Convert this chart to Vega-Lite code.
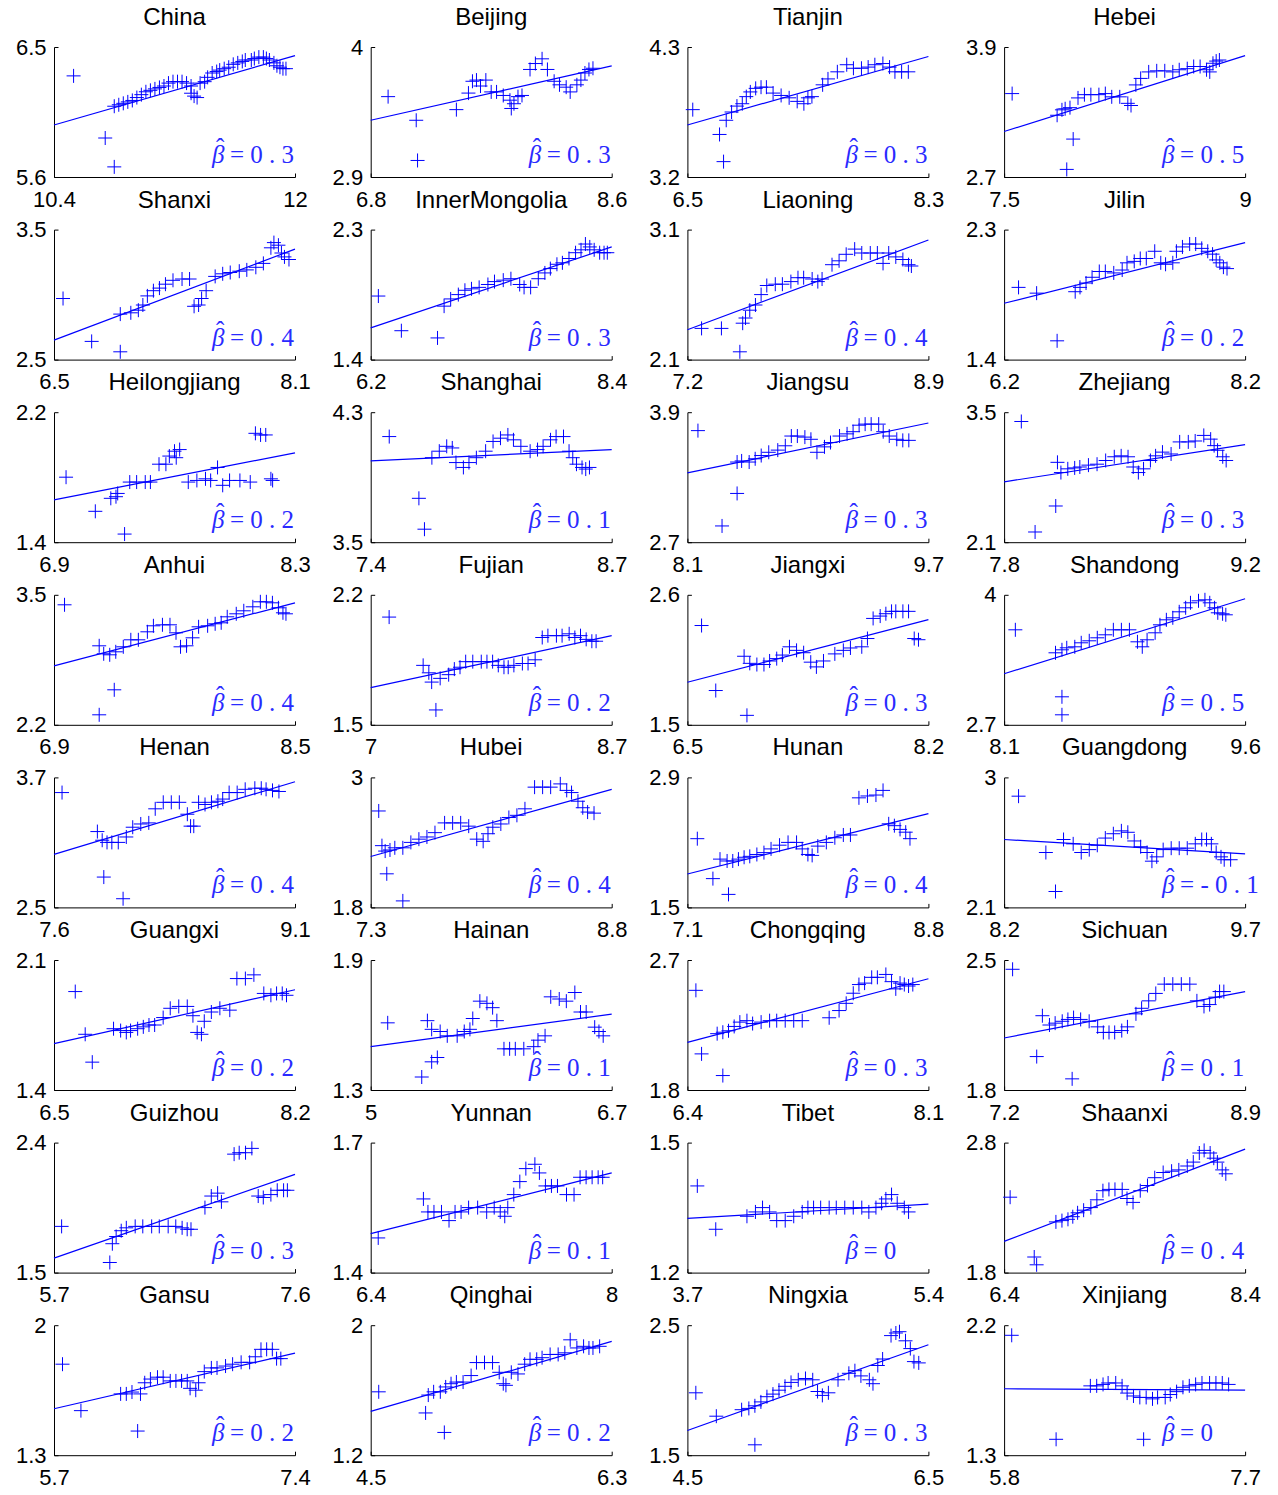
{
"$schema":"https://vega.github.io/schema/vega-lite/v6.json",
"background":"white",
"padding":{"left":15,"top":6,"right":0,"bottom":0},
"bounds":"flush",
"columns":4,
"spacing":{"row":52.6,"column":75.7},
"datasets":{
"pts":[
{"p":"China","x":10.53,"y":6.3},{"p":"China","x":10.74,"y":5.87},{"p":"China","x":10.8,"y":5.67},{"p":"China","x":10.8,"y":6.09},{"p":"China","x":10.83,"y":6.1},{"p":"China","x":10.86,"y":6.11},{"p":"China","x":10.89,"y":6.12},{"p":"China","x":10.92,"y":6.13},{"p":"China","x":10.95,"y":6.15},{"p":"China","x":10.98,"y":6.17},{"p":"China","x":11.01,"y":6.19},{"p":"China","x":11.04,"y":6.2},{"p":"China","x":11.07,"y":6.21},{"p":"China","x":11.1,"y":6.22},{"p":"China","x":11.13,"y":6.23},{"p":"China","x":11.16,"y":6.25},{"p":"China","x":11.19,"y":6.26},{"p":"China","x":11.22,"y":6.26},{"p":"China","x":11.25,"y":6.26},{"p":"China","x":11.28,"y":6.25},{"p":"China","x":11.31,"y":6.23},{"p":"China","x":11.31,"y":6.18},{"p":"China","x":11.33,"y":6.16},{"p":"China","x":11.35,"y":6.15},{"p":"China","x":11.37,"y":6.25},{"p":"China","x":11.4,"y":6.26},{"p":"China","x":11.42,"y":6.29},{"p":"China","x":11.45,"y":6.32},{"p":"China","x":11.48,"y":6.33},{"p":"China","x":11.5,"y":6.34},{"p":"China","x":11.53,"y":6.35},{"p":"China","x":11.56,"y":6.36},{"p":"China","x":11.59,"y":6.38},{"p":"China","x":11.62,"y":6.39},{"p":"China","x":11.65,"y":6.4},{"p":"China","x":11.67,"y":6.41},{"p":"China","x":11.71,"y":6.41},{"p":"China","x":11.73,"y":6.42},{"p":"China","x":11.76,"y":6.43},{"p":"China","x":11.79,"y":6.43},{"p":"China","x":11.81,"y":6.42},{"p":"China","x":11.83,"y":6.41},{"p":"China","x":11.86,"y":6.39},{"p":"China","x":11.88,"y":6.37},{"p":"China","x":11.9,"y":6.36},{"p":"China","x":11.92,"y":6.35},{"p":"China","x":11.94,"y":6.35},
{"p":"Beijing","x":6.93,"y":3.58},{"p":"Beijing","x":7.14,"y":3.38},{"p":"Beijing","x":7.15,"y":3.04},{"p":"Beijing","x":7.44,"y":3.47},{"p":"Beijing","x":7.53,"y":3.61},{"p":"Beijing","x":7.56,"y":3.71},{"p":"Beijing","x":7.59,"y":3.72},{"p":"Beijing","x":7.62,"y":3.67},{"p":"Beijing","x":7.66,"y":3.72},{"p":"Beijing","x":7.7,"y":3.62},{"p":"Beijing","x":7.74,"y":3.62},{"p":"Beijing","x":7.79,"y":3.59},{"p":"Beijing","x":7.84,"y":3.55},{"p":"Beijing","x":7.87,"y":3.52},{"p":"Beijing","x":7.85,"y":3.48},{"p":"Beijing","x":7.9,"y":3.58},{"p":"Beijing","x":7.93,"y":3.59},{"p":"Beijing","x":7.99,"y":3.81},{"p":"Beijing","x":8.03,"y":3.86},{"p":"Beijing","x":8.08,"y":3.9},{"p":"Beijing","x":8.12,"y":3.81},{"p":"Beijing","x":8.17,"y":3.71},{"p":"Beijing","x":8.21,"y":3.68},{"p":"Beijing","x":8.26,"y":3.66},{"p":"Beijing","x":8.29,"y":3.62},{"p":"Beijing","x":8.34,"y":3.68},{"p":"Beijing","x":8.37,"y":3.72},{"p":"Beijing","x":8.4,"y":3.78},{"p":"Beijing","x":8.43,"y":3.81},{"p":"Beijing","x":8.46,"y":3.82},
{"p":"Tianjin","x":6.54,"y":3.77},{"p":"Tianjin","x":6.74,"y":3.56},{"p":"Tianjin","x":6.77,"y":3.33},{"p":"Tianjin","x":6.79,"y":3.68},{"p":"Tianjin","x":6.83,"y":3.75},{"p":"Tianjin","x":6.87,"y":3.8},{"p":"Tianjin","x":6.91,"y":3.82},{"p":"Tianjin","x":6.94,"y":3.88},{"p":"Tianjin","x":6.97,"y":3.92},{"p":"Tianjin","x":7.01,"y":3.95},{"p":"Tianjin","x":7.05,"y":3.96},{"p":"Tianjin","x":7.09,"y":3.96},{"p":"Tianjin","x":7.14,"y":3.91},{"p":"Tianjin","x":7.2,"y":3.89},{"p":"Tianjin","x":7.26,"y":3.87},{"p":"Tianjin","x":7.32,"y":3.84},{"p":"Tianjin","x":7.37,"y":3.82},{"p":"Tianjin","x":7.4,"y":3.87},{"p":"Tianjin","x":7.43,"y":3.88},{"p":"Tianjin","x":7.51,"y":3.98},{"p":"Tianjin","x":7.55,"y":4.03},{"p":"Tianjin","x":7.62,"y":4.09},{"p":"Tianjin","x":7.69,"y":4.15},{"p":"Tianjin","x":7.74,"y":4.12},{"p":"Tianjin","x":7.8,"y":4.12},{"p":"Tianjin","x":7.85,"y":4.13},{"p":"Tianjin","x":7.9,"y":4.15},{"p":"Tianjin","x":7.96,"y":4.16},{"p":"Tianjin","x":8.01,"y":4.13},{"p":"Tianjin","x":8.05,"y":4.09},{"p":"Tianjin","x":8.1,"y":4.09},{"p":"Tianjin","x":8.15,"y":4.09},
{"p":"Hebei","x":7.55,"y":3.47},{"p":"Hebei","x":7.83,"y":3.27},{"p":"Hebei","x":7.86,"y":3.32},{"p":"Hebei","x":7.88,"y":3.33},{"p":"Hebei","x":7.91,"y":3.34},{"p":"Hebei","x":7.93,"y":3.05},{"p":"Hebei","x":7.89,"y":2.77},{"p":"Hebei","x":7.96,"y":3.43},{"p":"Hebei","x":8.0,"y":3.46},{"p":"Hebei","x":8.04,"y":3.46},{"p":"Hebei","x":8.09,"y":3.46},{"p":"Hebei","x":8.13,"y":3.47},{"p":"Hebei","x":8.17,"y":3.44},{"p":"Hebei","x":8.22,"y":3.44},{"p":"Hebei","x":8.27,"y":3.38},{"p":"Hebei","x":8.29,"y":3.36},{"p":"Hebei","x":8.32,"y":3.55},{"p":"Hebei","x":8.35,"y":3.61},{"p":"Hebei","x":8.4,"y":3.67},{"p":"Hebei","x":8.45,"y":3.68},{"p":"Hebei","x":8.5,"y":3.68},{"p":"Hebei","x":8.55,"y":3.67},{"p":"Hebei","x":8.59,"y":3.69},{"p":"Hebei","x":8.64,"y":3.7},{"p":"Hebei","x":8.68,"y":3.72},{"p":"Hebei","x":8.72,"y":3.72},{"p":"Hebei","x":8.76,"y":3.69},{"p":"Hebei","x":8.78,"y":3.67},{"p":"Hebei","x":8.8,"y":3.75},{"p":"Hebei","x":8.82,"y":3.77},{"p":"Hebei","x":8.84,"y":3.78},
{"p":"Shanxi","x":6.56,"y":2.97},{"p":"Shanxi","x":6.75,"y":2.64},{"p":"Shanxi","x":6.94,"y":2.56},{"p":"Shanxi","x":6.94,"y":2.85},{"p":"Shanxi","x":7.01,"y":2.86},{"p":"Shanxi","x":7.06,"y":2.88},{"p":"Shanxi","x":7.09,"y":2.92},{"p":"Shanxi","x":7.12,"y":2.99},{"p":"Shanxi","x":7.16,"y":3.03},{"p":"Shanxi","x":7.2,"y":3.05},{"p":"Shanxi","x":7.24,"y":3.08},{"p":"Shanxi","x":7.29,"y":3.11},{"p":"Shanxi","x":7.35,"y":3.12},{"p":"Shanxi","x":7.4,"y":3.12},{"p":"Shanxi","x":7.43,"y":2.91},{"p":"Shanxi","x":7.46,"y":2.92},{"p":"Shanxi","x":7.48,"y":2.97},{"p":"Shanxi","x":7.51,"y":3.03},{"p":"Shanxi","x":7.57,"y":3.14},{"p":"Shanxi","x":7.62,"y":3.16},{"p":"Shanxi","x":7.67,"y":3.17},{"p":"Shanxi","x":7.73,"y":3.18},{"p":"Shanxi","x":7.78,"y":3.19},{"p":"Shanxi","x":7.84,"y":3.21},{"p":"Shanxi","x":7.89,"y":3.24},{"p":"Shanxi","x":7.94,"y":3.36},{"p":"Shanxi","x":7.96,"y":3.4},{"p":"Shanxi","x":7.99,"y":3.38},{"p":"Shanxi","x":8.01,"y":3.32},{"p":"Shanxi","x":8.03,"y":3.29},{"p":"Shanxi","x":8.06,"y":3.27},
{"p":"InnerMongolia","x":6.27,"y":1.84},{"p":"InnerMongolia","x":6.48,"y":1.6},{"p":"InnerMongolia","x":6.81,"y":1.55},{"p":"InnerMongolia","x":6.87,"y":1.77},{"p":"InnerMongolia","x":6.93,"y":1.82},{"p":"InnerMongolia","x":7.0,"y":1.85},{"p":"InnerMongolia","x":7.06,"y":1.88},{"p":"InnerMongolia","x":7.12,"y":1.89},{"p":"InnerMongolia","x":7.19,"y":1.9},{"p":"InnerMongolia","x":7.27,"y":1.92},{"p":"InnerMongolia","x":7.33,"y":1.94},{"p":"InnerMongolia","x":7.41,"y":1.95},{"p":"InnerMongolia","x":7.48,"y":1.96},{"p":"InnerMongolia","x":7.56,"y":1.92},{"p":"InnerMongolia","x":7.6,"y":1.9},{"p":"InnerMongolia","x":7.66,"y":1.9},{"p":"InnerMongolia","x":7.73,"y":1.96},{"p":"InnerMongolia","x":7.79,"y":2.0},{"p":"InnerMongolia","x":7.84,"y":2.03},{"p":"InnerMongolia","x":7.9,"y":2.06},{"p":"InnerMongolia","x":7.95,"y":2.07},{"p":"InnerMongolia","x":8.01,"y":2.1},{"p":"InnerMongolia","x":8.07,"y":2.14},{"p":"InnerMongolia","x":8.12,"y":2.16},{"p":"InnerMongolia","x":8.16,"y":2.2},{"p":"InnerMongolia","x":8.2,"y":2.18},{"p":"InnerMongolia","x":8.24,"y":2.16},{"p":"InnerMongolia","x":8.29,"y":2.14},{"p":"InnerMongolia","x":8.33,"y":2.14},{"p":"InnerMongolia","x":8.36,"y":2.14},
{"p":"Liaoning","x":7.3,"y":2.34},{"p":"Liaoning","x":7.44,"y":2.34},{"p":"Liaoning","x":7.57,"y":2.16},{"p":"Liaoning","x":7.59,"y":2.38},{"p":"Liaoning","x":7.61,"y":2.42},{"p":"Liaoning","x":7.64,"y":2.48},{"p":"Liaoning","x":7.68,"y":2.52},{"p":"Liaoning","x":7.72,"y":2.6},{"p":"Liaoning","x":7.76,"y":2.67},{"p":"Liaoning","x":7.82,"y":2.68},{"p":"Liaoning","x":7.87,"y":2.68},{"p":"Liaoning","x":7.93,"y":2.7},{"p":"Liaoning","x":7.98,"y":2.73},{"p":"Liaoning","x":8.02,"y":2.73},{"p":"Liaoning","x":8.08,"y":2.72},{"p":"Liaoning","x":8.12,"y":2.7},{"p":"Liaoning","x":8.15,"y":2.72},{"p":"Liaoning","x":8.22,"y":2.83},{"p":"Liaoning","x":8.27,"y":2.86},{"p":"Liaoning","x":8.32,"y":2.91},{"p":"Liaoning","x":8.38,"y":2.95},{"p":"Liaoning","x":8.43,"y":2.92},{"p":"Liaoning","x":8.49,"y":2.92},{"p":"Liaoning","x":8.54,"y":2.92},{"p":"Liaoning","x":8.58,"y":2.84},{"p":"Liaoning","x":8.62,"y":2.92},{"p":"Liaoning","x":8.67,"y":2.89},{"p":"Liaoning","x":8.72,"y":2.87},{"p":"Liaoning","x":8.76,"y":2.83},{"p":"Liaoning","x":8.78,"y":2.82},
{"p":"Jilin","x":6.32,"y":1.9},{"p":"Jilin","x":6.47,"y":1.86},{"p":"Jilin","x":6.64,"y":1.53},{"p":"Jilin","x":6.79,"y":1.87},{"p":"Jilin","x":6.83,"y":1.9},{"p":"Jilin","x":6.88,"y":1.93},{"p":"Jilin","x":6.93,"y":1.97},{"p":"Jilin","x":6.99,"y":2.01},{"p":"Jilin","x":7.04,"y":2.01},{"p":"Jilin","x":7.11,"y":2.0},{"p":"Jilin","x":7.18,"y":2.02},{"p":"Jilin","x":7.22,"y":2.07},{"p":"Jilin","x":7.28,"y":2.08},{"p":"Jilin","x":7.33,"y":2.1},{"p":"Jilin","x":7.38,"y":2.1},{"p":"Jilin","x":7.45,"y":2.15},{"p":"Jilin","x":7.5,"y":2.07},{"p":"Jilin","x":7.54,"y":2.06},{"p":"Jilin","x":7.6,"y":2.07},{"p":"Jilin","x":7.63,"y":2.15},{"p":"Jilin","x":7.68,"y":2.18},{"p":"Jilin","x":7.74,"y":2.2},{"p":"Jilin","x":7.79,"y":2.2},{"p":"Jilin","x":7.84,"y":2.17},{"p":"Jilin","x":7.89,"y":2.15},{"p":"Jilin","x":7.93,"y":2.13},{"p":"Jilin","x":7.96,"y":2.09},{"p":"Jilin","x":7.99,"y":2.07},{"p":"Jilin","x":8.02,"y":2.04},{"p":"Jilin","x":8.05,"y":2.03},
{"p":"Heilongjiang","x":6.97,"y":1.8},{"p":"Heilongjiang","x":7.14,"y":1.59},{"p":"Heilongjiang","x":7.31,"y":1.45},{"p":"Heilongjiang","x":7.23,"y":1.67},{"p":"Heilongjiang","x":7.26,"y":1.68},{"p":"Heilongjiang","x":7.27,"y":1.7},{"p":"Heilongjiang","x":7.34,"y":1.77},{"p":"Heilongjiang","x":7.38,"y":1.77},{"p":"Heilongjiang","x":7.43,"y":1.77},{"p":"Heilongjiang","x":7.46,"y":1.77},{"p":"Heilongjiang","x":7.51,"y":1.88},{"p":"Heilongjiang","x":7.55,"y":1.88},{"p":"Heilongjiang","x":7.57,"y":1.93},{"p":"Heilongjiang","x":7.6,"y":1.96},{"p":"Heilongjiang","x":7.63,"y":1.97},{"p":"Heilongjiang","x":7.61,"y":1.92},{"p":"Heilongjiang","x":7.68,"y":1.77},{"p":"Heilongjiang","x":7.73,"y":1.78},{"p":"Heilongjiang","x":7.78,"y":1.79},{"p":"Heilongjiang","x":7.81,"y":1.78},{"p":"Heilongjiang","x":7.85,"y":1.86},{"p":"Heilongjiang","x":7.88,"y":1.75},{"p":"Heilongjiang","x":7.92,"y":1.78},{"p":"Heilongjiang","x":7.98,"y":1.78},{"p":"Heilongjiang","x":8.04,"y":1.77},{"p":"Heilongjiang","x":8.07,"y":2.07},{"p":"Heilongjiang","x":8.1,"y":2.06},{"p":"Heilongjiang","x":8.13,"y":2.06},{"p":"Heilongjiang","x":8.16,"y":1.79},{"p":"Heilongjiang","x":8.17,"y":1.78},
{"p":"Shanghai","x":7.5,"y":4.15},{"p":"Shanghai","x":7.66,"y":3.77},{"p":"Shanghai","x":7.69,"y":3.58},{"p":"Shanghai","x":7.73,"y":4.02},{"p":"Shanghai","x":7.77,"y":4.06},{"p":"Shanghai","x":7.81,"y":4.09},{"p":"Shanghai","x":7.84,"y":4.08},{"p":"Shanghai","x":7.86,"y":3.99},{"p":"Shanghai","x":7.9,"y":3.96},{"p":"Shanghai","x":7.93,"y":3.99},{"p":"Shanghai","x":7.97,"y":4.02},{"p":"Shanghai","x":8.02,"y":4.06},{"p":"Shanghai","x":8.06,"y":4.12},{"p":"Shanghai","x":8.1,"y":4.14},{"p":"Shanghai","x":8.14,"y":4.16},{"p":"Shanghai","x":8.17,"y":4.13},{"p":"Shanghai","x":8.21,"y":4.09},{"p":"Shanghai","x":8.26,"y":4.06},{"p":"Shanghai","x":8.3,"y":4.07},{"p":"Shanghai","x":8.33,"y":4.09},{"p":"Shanghai","x":8.37,"y":4.13},{"p":"Shanghai","x":8.4,"y":4.15},{"p":"Shanghai","x":8.44,"y":4.15},{"p":"Shanghai","x":8.47,"y":4.06},{"p":"Shanghai","x":8.49,"y":4.02},{"p":"Shanghai","x":8.51,"y":3.98},{"p":"Shanghai","x":8.54,"y":3.96},{"p":"Shanghai","x":8.56,"y":3.95},{"p":"Shanghai","x":8.58,"y":3.96},
{"p":"Jiangsu","x":8.17,"y":3.73},{"p":"Jiangsu","x":8.33,"y":2.85},{"p":"Jiangsu","x":8.43,"y":3.15},{"p":"Jiangsu","x":8.43,"y":3.44},{"p":"Jiangsu","x":8.46,"y":3.45},{"p":"Jiangsu","x":8.51,"y":3.44},{"p":"Jiangsu","x":8.55,"y":3.47},{"p":"Jiangsu","x":8.59,"y":3.5},{"p":"Jiangsu","x":8.64,"y":3.53},{"p":"Jiangsu","x":8.7,"y":3.55},{"p":"Jiangsu","x":8.75,"y":3.59},{"p":"Jiangsu","x":8.79,"y":3.68},{"p":"Jiangsu","x":8.83,"y":3.68},{"p":"Jiangsu","x":8.88,"y":3.67},{"p":"Jiangsu","x":8.92,"y":3.65},{"p":"Jiangsu","x":8.96,"y":3.53},{"p":"Jiangsu","x":9.01,"y":3.58},{"p":"Jiangsu","x":9.05,"y":3.62},{"p":"Jiangsu","x":9.11,"y":3.68},{"p":"Jiangsu","x":9.16,"y":3.7},{"p":"Jiangsu","x":9.2,"y":3.72},{"p":"Jiangsu","x":9.24,"y":3.78},{"p":"Jiangsu","x":9.28,"y":3.79},{"p":"Jiangsu","x":9.32,"y":3.79},{"p":"Jiangsu","x":9.37,"y":3.79},{"p":"Jiangsu","x":9.4,"y":3.72},{"p":"Jiangsu","x":9.44,"y":3.68},{"p":"Jiangsu","x":9.49,"y":3.65},{"p":"Jiangsu","x":9.53,"y":3.64},{"p":"Jiangsu","x":9.57,"y":3.64},
{"p":"Zhejiang","x":7.9,"y":3.4},{"p":"Zhejiang","x":7.98,"y":2.21},{"p":"Zhejiang","x":8.1,"y":2.49},{"p":"Zhejiang","x":8.11,"y":2.96},{"p":"Zhejiang","x":8.13,"y":2.85},{"p":"Zhejiang","x":8.17,"y":2.89},{"p":"Zhejiang","x":8.21,"y":2.9},{"p":"Zhejiang","x":8.24,"y":2.91},{"p":"Zhejiang","x":8.29,"y":2.93},{"p":"Zhejiang","x":8.34,"y":2.94},{"p":"Zhejiang","x":8.39,"y":2.98},{"p":"Zhejiang","x":8.44,"y":3.02},{"p":"Zhejiang","x":8.48,"y":3.03},{"p":"Zhejiang","x":8.52,"y":3.02},{"p":"Zhejiang","x":8.55,"y":2.91},{"p":"Zhejiang","x":8.58,"y":2.85},{"p":"Zhejiang","x":8.61,"y":2.89},{"p":"Zhejiang","x":8.65,"y":2.98},{"p":"Zhejiang","x":8.68,"y":3.03},{"p":"Zhejiang","x":8.72,"y":3.07},{"p":"Zhejiang","x":8.77,"y":3.05},{"p":"Zhejiang","x":8.82,"y":3.18},{"p":"Zhejiang","x":8.87,"y":3.18},{"p":"Zhejiang","x":8.91,"y":3.19},{"p":"Zhejiang","x":8.96,"y":3.25},{"p":"Zhejiang","x":9.0,"y":3.21},{"p":"Zhejiang","x":9.02,"y":3.14},{"p":"Zhejiang","x":9.04,"y":3.09},{"p":"Zhejiang","x":9.07,"y":3.02},{"p":"Zhejiang","x":9.09,"y":2.98},
{"p":"Anhui","x":6.97,"y":3.4},{"p":"Anhui","x":7.2,"y":2.3},{"p":"Anhui","x":7.3,"y":2.55},{"p":"Anhui","x":7.2,"y":2.99},{"p":"Anhui","x":7.23,"y":2.91},{"p":"Anhui","x":7.27,"y":2.9},{"p":"Anhui","x":7.31,"y":2.93},{"p":"Anhui","x":7.36,"y":2.98},{"p":"Anhui","x":7.41,"y":3.05},{"p":"Anhui","x":7.46,"y":3.05},{"p":"Anhui","x":7.52,"y":3.13},{"p":"Anhui","x":7.56,"y":3.19},{"p":"Anhui","x":7.62,"y":3.2},{"p":"Anhui","x":7.67,"y":3.2},{"p":"Anhui","x":7.71,"y":3.12},{"p":"Anhui","x":7.74,"y":2.98},{"p":"Anhui","x":7.78,"y":2.99},{"p":"Anhui","x":7.82,"y":3.07},{"p":"Anhui","x":7.86,"y":3.18},{"p":"Anhui","x":7.92,"y":3.19},{"p":"Anhui","x":7.97,"y":3.21},{"p":"Anhui","x":8.01,"y":3.22},{"p":"Anhui","x":8.05,"y":3.28},{"p":"Anhui","x":8.11,"y":3.31},{"p":"Anhui","x":8.16,"y":3.34},{"p":"Anhui","x":8.22,"y":3.38},{"p":"Anhui","x":8.27,"y":3.43},{"p":"Anhui","x":8.31,"y":3.43},{"p":"Anhui","x":8.35,"y":3.42},{"p":"Anhui","x":8.39,"y":3.37},{"p":"Anhui","x":8.42,"y":3.32},{"p":"Anhui","x":8.44,"y":3.31},
{"p":"Fujian","x":7.13,"y":2.08},{"p":"Fujian","x":7.37,"y":1.82},{"p":"Fujian","x":7.41,"y":1.78},{"p":"Fujian","x":7.43,"y":1.73},{"p":"Fujian","x":7.46,"y":1.58},{"p":"Fujian","x":7.49,"y":1.75},{"p":"Fujian","x":7.55,"y":1.77},{"p":"Fujian","x":7.59,"y":1.8},{"p":"Fujian","x":7.63,"y":1.81},{"p":"Fujian","x":7.67,"y":1.84},{"p":"Fujian","x":7.72,"y":1.84},{"p":"Fujian","x":7.78,"y":1.84},{"p":"Fujian","x":7.82,"y":1.84},{"p":"Fujian","x":7.86,"y":1.84},{"p":"Fujian","x":7.9,"y":1.82},{"p":"Fujian","x":7.94,"y":1.81},{"p":"Fujian","x":7.97,"y":1.81},{"p":"Fujian","x":8.01,"y":1.82},{"p":"Fujian","x":8.07,"y":1.83},{"p":"Fujian","x":8.11,"y":1.83},{"p":"Fujian","x":8.16,"y":1.85},{"p":"Fujian","x":8.21,"y":1.97},{"p":"Fujian","x":8.25,"y":1.98},{"p":"Fujian","x":8.31,"y":1.98},{"p":"Fujian","x":8.35,"y":1.98},{"p":"Fujian","x":8.4,"y":1.99},{"p":"Fujian","x":8.44,"y":1.97},{"p":"Fujian","x":8.48,"y":1.98},{"p":"Fujian","x":8.52,"y":1.96},{"p":"Fujian","x":8.56,"y":1.95},{"p":"Fujian","x":8.59,"y":1.95},
{"p":"Jiangxi","x":6.6,"y":2.34},{"p":"Jiangxi","x":6.7,"y":1.79},{"p":"Jiangxi","x":6.92,"y":1.58},{"p":"Jiangxi","x":6.9,"y":2.08},{"p":"Jiangxi","x":6.94,"y":2.02},{"p":"Jiangxi","x":6.99,"y":2.01},{"p":"Jiangxi","x":7.04,"y":2.01},{"p":"Jiangxi","x":7.08,"y":2.04},{"p":"Jiangxi","x":7.13,"y":2.06},{"p":"Jiangxi","x":7.17,"y":2.09},{"p":"Jiangxi","x":7.22,"y":2.16},{"p":"Jiangxi","x":7.27,"y":2.13},{"p":"Jiangxi","x":7.32,"y":2.11},{"p":"Jiangxi","x":7.37,"y":2.03},{"p":"Jiangxi","x":7.41,"y":1.99},{"p":"Jiangxi","x":7.46,"y":2.04},{"p":"Jiangxi","x":7.54,"y":2.1},{"p":"Jiangxi","x":7.6,"y":2.13},{"p":"Jiangxi","x":7.65,"y":2.15},{"p":"Jiangxi","x":7.73,"y":2.16},{"p":"Jiangxi","x":7.77,"y":2.23},{"p":"Jiangxi","x":7.81,"y":2.4},{"p":"Jiangxi","x":7.86,"y":2.42},{"p":"Jiangxi","x":7.9,"y":2.44},{"p":"Jiangxi","x":7.94,"y":2.46},{"p":"Jiangxi","x":7.97,"y":2.46},{"p":"Jiangxi","x":8.02,"y":2.46},{"p":"Jiangxi","x":8.06,"y":2.46},{"p":"Jiangxi","x":8.1,"y":2.23},{"p":"Jiangxi","x":8.13,"y":2.22},
{"p":"Shandong","x":8.17,"y":3.65},{"p":"Shandong","x":8.46,"y":2.98},{"p":"Shandong","x":8.46,"y":2.8},{"p":"Shandong","x":8.42,"y":3.42},{"p":"Shandong","x":8.46,"y":3.45},{"p":"Shandong","x":8.49,"y":3.47},{"p":"Shandong","x":8.54,"y":3.48},{"p":"Shandong","x":8.58,"y":3.52},{"p":"Shandong","x":8.63,"y":3.54},{"p":"Shandong","x":8.68,"y":3.57},{"p":"Shandong","x":8.73,"y":3.6},{"p":"Shandong","x":8.78,"y":3.65},{"p":"Shandong","x":8.83,"y":3.65},{"p":"Shandong","x":8.88,"y":3.65},{"p":"Shandong","x":8.93,"y":3.53},{"p":"Shandong","x":8.96,"y":3.48},{"p":"Shandong","x":8.99,"y":3.55},{"p":"Shandong","x":9.04,"y":3.62},{"p":"Shandong","x":9.07,"y":3.7},{"p":"Shandong","x":9.11,"y":3.75},{"p":"Shandong","x":9.15,"y":3.77},{"p":"Shandong","x":9.19,"y":3.83},{"p":"Shandong","x":9.23,"y":3.87},{"p":"Shandong","x":9.26,"y":3.92},{"p":"Shandong","x":9.31,"y":3.94},{"p":"Shandong","x":9.35,"y":3.95},{"p":"Shandong","x":9.38,"y":3.92},{"p":"Shandong","x":9.41,"y":3.87},{"p":"Shandong","x":9.43,"y":3.82},{"p":"Shandong","x":9.46,"y":3.81},{"p":"Shandong","x":9.48,"y":3.8},
{"p":"Henan","x":7.65,"y":3.56},{"p":"Henan","x":7.91,"y":2.78},{"p":"Henan","x":8.03,"y":2.58},{"p":"Henan","x":7.87,"y":3.2},{"p":"Henan","x":7.9,"y":3.12},{"p":"Henan","x":7.93,"y":3.1},{"p":"Henan","x":7.96,"y":3.1},{"p":"Henan","x":8.0,"y":3.1},{"p":"Henan","x":8.05,"y":3.15},{"p":"Henan","x":8.09,"y":3.24},{"p":"Henan","x":8.14,"y":3.27},{"p":"Henan","x":8.19,"y":3.28},{"p":"Henan","x":8.23,"y":3.41},{"p":"Henan","x":8.28,"y":3.47},{"p":"Henan","x":8.33,"y":3.47},{"p":"Henan","x":8.38,"y":3.47},{"p":"Henan","x":8.43,"y":3.36},{"p":"Henan","x":8.45,"y":3.25},{"p":"Henan","x":8.47,"y":3.25},{"p":"Henan","x":8.5,"y":3.47},{"p":"Henan","x":8.54,"y":3.45},{"p":"Henan","x":8.58,"y":3.47},{"p":"Henan","x":8.62,"y":3.48},{"p":"Henan","x":8.65,"y":3.5},{"p":"Henan","x":8.69,"y":3.56},{"p":"Henan","x":8.74,"y":3.56},{"p":"Henan","x":8.79,"y":3.59},{"p":"Henan","x":8.85,"y":3.6},{"p":"Henan","x":8.89,"y":3.6},{"p":"Henan","x":8.92,"y":3.59},{"p":"Henan","x":8.96,"y":3.58},{"p":"Henan","x":9.0,"y":3.57},
{"p":"Hubei","x":7.35,"y":2.69},{"p":"Hubei","x":7.4,"y":2.11},{"p":"Hubei","x":7.5,"y":1.86},{"p":"Hubei","x":7.37,"y":2.37},{"p":"Hubei","x":7.39,"y":2.32},{"p":"Hubei","x":7.42,"y":2.33},{"p":"Hubei","x":7.45,"y":2.35},{"p":"Hubei","x":7.5,"y":2.35},{"p":"Hubei","x":7.55,"y":2.4},{"p":"Hubei","x":7.6,"y":2.43},{"p":"Hubei","x":7.65,"y":2.45},{"p":"Hubei","x":7.7,"y":2.49},{"p":"Hubei","x":7.76,"y":2.58},{"p":"Hubei","x":7.81,"y":2.58},{"p":"Hubei","x":7.86,"y":2.58},{"p":"Hubei","x":7.91,"y":2.55},{"p":"Hubei","x":7.96,"y":2.43},{"p":"Hubei","x":8.0,"y":2.41},{"p":"Hubei","x":8.03,"y":2.48},{"p":"Hubei","x":8.06,"y":2.54},{"p":"Hubei","x":8.11,"y":2.57},{"p":"Hubei","x":8.16,"y":2.63},{"p":"Hubei","x":8.21,"y":2.65},{"p":"Hubei","x":8.26,"y":2.71},{"p":"Hubei","x":8.32,"y":2.91},{"p":"Hubei","x":8.37,"y":2.91},{"p":"Hubei","x":8.42,"y":2.91},{"p":"Hubei","x":8.48,"y":2.94},{"p":"Hubei","x":8.52,"y":2.88},{"p":"Hubei","x":8.55,"y":2.86},{"p":"Hubei","x":8.59,"y":2.78},{"p":"Hubei","x":8.62,"y":2.72},{"p":"Hubei","x":8.65,"y":2.68},{"p":"Hubei","x":8.69,"y":2.67},
{"p":"Hunan","x":7.17,"y":2.24},{"p":"Hunan","x":7.28,"y":1.81},{"p":"Hunan","x":7.39,"y":1.64},{"p":"Hunan","x":7.33,"y":2.02},{"p":"Hunan","x":7.38,"y":2.0},{"p":"Hunan","x":7.42,"y":2.0},{"p":"Hunan","x":7.46,"y":2.02},{"p":"Hunan","x":7.5,"y":2.04},{"p":"Hunan","x":7.54,"y":2.05},{"p":"Hunan","x":7.59,"y":2.07},{"p":"Hunan","x":7.64,"y":2.09},{"p":"Hunan","x":7.69,"y":2.13},{"p":"Hunan","x":7.75,"y":2.17},{"p":"Hunan","x":7.81,"y":2.2},{"p":"Hunan","x":7.87,"y":2.2},{"p":"Hunan","x":7.91,"y":2.13},{"p":"Hunan","x":7.95,"y":2.07},{"p":"Hunan","x":7.98,"y":2.06},{"p":"Hunan","x":8.02,"y":2.16},{"p":"Hunan","x":8.08,"y":2.2},{"p":"Hunan","x":8.14,"y":2.25},{"p":"Hunan","x":8.2,"y":2.28},{"p":"Hunan","x":8.25,"y":2.28},{"p":"Hunan","x":8.31,"y":2.68},{"p":"Hunan","x":8.37,"y":2.7},{"p":"Hunan","x":8.43,"y":2.71},{"p":"Hunan","x":8.48,"y":2.76},{"p":"Hunan","x":8.52,"y":2.4},{"p":"Hunan","x":8.56,"y":2.38},{"p":"Hunan","x":8.6,"y":2.34},{"p":"Hunan","x":8.64,"y":2.31},{"p":"Hunan","x":8.67,"y":2.24},
{"p":"Guangdong","x":8.29,"y":2.87},{"p":"Guangdong","x":8.46,"y":2.48},{"p":"Guangdong","x":8.52,"y":2.21},{"p":"Guangdong","x":8.57,"y":2.57},{"p":"Guangdong","x":8.63,"y":2.54},{"p":"Guangdong","x":8.68,"y":2.48},{"p":"Guangdong","x":8.73,"y":2.5},{"p":"Guangdong","x":8.78,"y":2.53},{"p":"Guangdong","x":8.83,"y":2.58},{"p":"Guangdong","x":8.88,"y":2.61},{"p":"Guangdong","x":8.93,"y":2.63},{"p":"Guangdong","x":8.97,"y":2.62},{"p":"Guangdong","x":9.01,"y":2.56},{"p":"Guangdong","x":9.05,"y":2.52},{"p":"Guangdong","x":9.09,"y":2.48},{"p":"Guangdong","x":9.12,"y":2.42},{"p":"Guangdong","x":9.15,"y":2.45},{"p":"Guangdong","x":9.19,"y":2.5},{"p":"Guangdong","x":9.24,"y":2.51},{"p":"Guangdong","x":9.29,"y":2.51},{"p":"Guangdong","x":9.34,"y":2.51},{"p":"Guangdong","x":9.39,"y":2.54},{"p":"Guangdong","x":9.43,"y":2.57},{"p":"Guangdong","x":9.46,"y":2.57},{"p":"Guangdong","x":9.49,"y":2.54},{"p":"Guangdong","x":9.52,"y":2.48},{"p":"Guangdong","x":9.55,"y":2.45},{"p":"Guangdong","x":9.57,"y":2.43},{"p":"Guangdong","x":9.61,"y":2.43},
{"p":"Guangxi","x":6.65,"y":1.93},{"p":"Guangxi","x":6.72,"y":1.7},{"p":"Guangxi","x":6.77,"y":1.55},{"p":"Guangxi","x":6.92,"y":1.73},{"p":"Guangxi","x":6.97,"y":1.72},{"p":"Guangxi","x":7.01,"y":1.71},{"p":"Guangxi","x":7.04,"y":1.72},{"p":"Guangxi","x":7.09,"y":1.73},{"p":"Guangxi","x":7.13,"y":1.74},{"p":"Guangxi","x":7.17,"y":1.75},{"p":"Guangxi","x":7.21,"y":1.75},{"p":"Guangxi","x":7.27,"y":1.79},{"p":"Guangxi","x":7.32,"y":1.84},{"p":"Guangxi","x":7.38,"y":1.85},{"p":"Guangxi","x":7.44,"y":1.85},{"p":"Guangxi","x":7.48,"y":1.8},{"p":"Guangxi","x":7.51,"y":1.71},{"p":"Guangxi","x":7.54,"y":1.7},{"p":"Guangxi","x":7.56,"y":1.77},{"p":"Guangxi","x":7.61,"y":1.82},{"p":"Guangxi","x":7.67,"y":1.84},{"p":"Guangxi","x":7.74,"y":1.83},{"p":"Guangxi","x":7.79,"y":2.0},{"p":"Guangxi","x":7.85,"y":2.0},{"p":"Guangxi","x":7.91,"y":2.02},{"p":"Guangxi","x":7.98,"y":1.92},{"p":"Guangxi","x":8.03,"y":1.91},{"p":"Guangxi","x":8.07,"y":1.92},{"p":"Guangxi","x":8.11,"y":1.92},{"p":"Guangxi","x":8.14,"y":1.91},
{"p":"Hainan","x":5.12,"y":1.61},{"p":"Hainan","x":5.36,"y":1.36},{"p":"Hainan","x":5.43,"y":1.43},{"p":"Hainan","x":5.47,"y":1.45},{"p":"Hainan","x":5.4,"y":1.62},{"p":"Hainan","x":5.43,"y":1.58},{"p":"Hainan","x":5.49,"y":1.57},{"p":"Hainan","x":5.54,"y":1.55},{"p":"Hainan","x":5.61,"y":1.55},{"p":"Hainan","x":5.66,"y":1.57},{"p":"Hainan","x":5.7,"y":1.58},{"p":"Hainan","x":5.72,"y":1.63},{"p":"Hainan","x":5.77,"y":1.71},{"p":"Hainan","x":5.82,"y":1.7},{"p":"Hainan","x":5.86,"y":1.68},{"p":"Hainan","x":5.89,"y":1.62},{"p":"Hainan","x":5.94,"y":1.49},{"p":"Hainan","x":5.98,"y":1.49},{"p":"Hainan","x":6.02,"y":1.49},{"p":"Hainan","x":6.08,"y":1.49},{"p":"Hainan","x":6.15,"y":1.5},{"p":"Hainan","x":6.18,"y":1.53},{"p":"Hainan","x":6.23,"y":1.55},{"p":"Hainan","x":6.27,"y":1.73},{"p":"Hainan","x":6.33,"y":1.72},{"p":"Hainan","x":6.38,"y":1.71},{"p":"Hainan","x":6.44,"y":1.75},{"p":"Hainan","x":6.48,"y":1.66},{"p":"Hainan","x":6.52,"y":1.66},{"p":"Hainan","x":6.58,"y":1.59},{"p":"Hainan","x":6.61,"y":1.57},{"p":"Hainan","x":6.64,"y":1.55},
{"p":"Chongqing","x":6.46,"y":2.49},{"p":"Chongqing","x":6.5,"y":2.05},{"p":"Chongqing","x":6.65,"y":1.9},{"p":"Chongqing","x":6.61,"y":2.19},{"p":"Chongqing","x":6.65,"y":2.2},{"p":"Chongqing","x":6.69,"y":2.21},{"p":"Chongqing","x":6.73,"y":2.24},{"p":"Chongqing","x":6.77,"y":2.27},{"p":"Chongqing","x":6.82,"y":2.28},{"p":"Chongqing","x":6.86,"y":2.26},{"p":"Chongqing","x":6.92,"y":2.27},{"p":"Chongqing","x":6.98,"y":2.28},{"p":"Chongqing","x":7.03,"y":2.28},{"p":"Chongqing","x":7.09,"y":2.28},{"p":"Chongqing","x":7.15,"y":2.28},{"p":"Chongqing","x":7.21,"y":2.28},{"p":"Chongqing","x":7.4,"y":2.3},{"p":"Chongqing","x":7.47,"y":2.35},{"p":"Chongqing","x":7.52,"y":2.4},{"p":"Chongqing","x":7.57,"y":2.47},{"p":"Chongqing","x":7.61,"y":2.53},{"p":"Chongqing","x":7.65,"y":2.54},{"p":"Chongqing","x":7.7,"y":2.58},{"p":"Chongqing","x":7.74,"y":2.58},{"p":"Chongqing","x":7.8,"y":2.6},{"p":"Chongqing","x":7.84,"y":2.55},{"p":"Chongqing","x":7.87,"y":2.5},{"p":"Chongqing","x":7.9,"y":2.54},{"p":"Chongqing","x":7.93,"y":2.53},{"p":"Chongqing","x":7.96,"y":2.52},{"p":"Chongqing","x":7.99,"y":2.53},
{"p":"Sichuan","x":7.26,"y":2.45},{"p":"Sichuan","x":7.43,"y":1.98},{"p":"Sichuan","x":7.68,"y":1.86},{"p":"Sichuan","x":7.47,"y":2.2},{"p":"Sichuan","x":7.52,"y":2.15},{"p":"Sichuan","x":7.56,"y":2.16},{"p":"Sichuan","x":7.61,"y":2.17},{"p":"Sichuan","x":7.65,"y":2.18},{"p":"Sichuan","x":7.69,"y":2.19},{"p":"Sichuan","x":7.74,"y":2.18},{"p":"Sichuan","x":7.8,"y":2.17},{"p":"Sichuan","x":7.86,"y":2.14},{"p":"Sichuan","x":7.9,"y":2.11},{"p":"Sichuan","x":7.94,"y":2.11},{"p":"Sichuan","x":7.98,"y":2.11},{"p":"Sichuan","x":8.03,"y":2.12},{"p":"Sichuan","x":8.07,"y":2.14},{"p":"Sichuan","x":8.13,"y":2.21},{"p":"Sichuan","x":8.17,"y":2.24},{"p":"Sichuan","x":8.22,"y":2.28},{"p":"Sichuan","x":8.27,"y":2.32},{"p":"Sichuan","x":8.33,"y":2.37},{"p":"Sichuan","x":8.39,"y":2.37},{"p":"Sichuan","x":8.45,"y":2.37},{"p":"Sichuan","x":8.51,"y":2.37},{"p":"Sichuan","x":8.56,"y":2.28},{"p":"Sichuan","x":8.61,"y":2.25},{"p":"Sichuan","x":8.65,"y":2.26},{"p":"Sichuan","x":8.69,"y":2.3},{"p":"Sichuan","x":8.72,"y":2.33},{"p":"Sichuan","x":8.75,"y":2.33},
{"p":"Guizhou","x":5.76,"y":1.82},{"p":"Guizhou","x":6.14,"y":1.57},{"p":"Guizhou","x":6.16,"y":1.7},{"p":"Guizhou","x":6.19,"y":1.75},{"p":"Guizhou","x":6.23,"y":1.79},{"p":"Guizhou","x":6.27,"y":1.81},{"p":"Guizhou","x":6.34,"y":1.82},{"p":"Guizhou","x":6.4,"y":1.82},{"p":"Guizhou","x":6.47,"y":1.82},{"p":"Guizhou","x":6.53,"y":1.82},{"p":"Guizhou","x":6.6,"y":1.82},{"p":"Guizhou","x":6.66,"y":1.82},{"p":"Guizhou","x":6.71,"y":1.81},{"p":"Guizhou","x":6.75,"y":1.8},{"p":"Guizhou","x":6.78,"y":1.8},{"p":"Guizhou","x":6.89,"y":1.95},{"p":"Guizhou","x":6.94,"y":2.03},{"p":"Guizhou","x":6.99,"y":2.05},{"p":"Guizhou","x":7.02,"y":1.99},{"p":"Guizhou","x":7.12,"y":2.32},{"p":"Guizhou","x":7.16,"y":2.33},{"p":"Guizhou","x":7.21,"y":2.33},{"p":"Guizhou","x":7.26,"y":2.36},{"p":"Guizhou","x":7.31,"y":2.03},{"p":"Guizhou","x":7.35,"y":2.02},{"p":"Guizhou","x":7.41,"y":2.04},{"p":"Guizhou","x":7.46,"y":2.07},{"p":"Guizhou","x":7.51,"y":2.07},{"p":"Guizhou","x":7.54,"y":2.07},
{"p":"Yunnan","x":6.45,"y":1.48},{"p":"Yunnan","x":6.75,"y":1.57},{"p":"Yunnan","x":6.78,"y":1.54},{"p":"Yunnan","x":6.82,"y":1.54},{"p":"Yunnan","x":6.87,"y":1.54},{"p":"Yunnan","x":6.92,"y":1.52},{"p":"Yunnan","x":6.96,"y":1.54},{"p":"Yunnan","x":7.0,"y":1.54},{"p":"Yunnan","x":7.05,"y":1.55},{"p":"Yunnan","x":7.11,"y":1.55},{"p":"Yunnan","x":7.17,"y":1.54},{"p":"Yunnan","x":7.22,"y":1.55},{"p":"Yunnan","x":7.26,"y":1.54},{"p":"Yunnan","x":7.29,"y":1.53},{"p":"Yunnan","x":7.31,"y":1.55},{"p":"Yunnan","x":7.35,"y":1.58},{"p":"Yunnan","x":7.39,"y":1.61},{"p":"Yunnan","x":7.43,"y":1.64},{"p":"Yunnan","x":7.49,"y":1.65},{"p":"Yunnan","x":7.52,"y":1.63},{"p":"Yunnan","x":7.56,"y":1.6},{"p":"Yunnan","x":7.6,"y":1.6},{"p":"Yunnan","x":7.64,"y":1.6},{"p":"Yunnan","x":7.7,"y":1.58},{"p":"Yunnan","x":7.75,"y":1.58},{"p":"Yunnan","x":7.79,"y":1.62},{"p":"Yunnan","x":7.83,"y":1.62},{"p":"Yunnan","x":7.87,"y":1.62},{"p":"Yunnan","x":7.91,"y":1.62},{"p":"Yunnan","x":7.94,"y":1.62},
{"p":"Tibet","x":3.77,"y":1.4},{"p":"Tibet","x":3.9,"y":1.3},{"p":"Tibet","x":4.12,"y":1.33},{"p":"Tibet","x":4.18,"y":1.34},{"p":"Tibet","x":4.23,"y":1.35},{"p":"Tibet","x":4.28,"y":1.34},{"p":"Tibet","x":4.33,"y":1.32},{"p":"Tibet","x":4.39,"y":1.32},{"p":"Tibet","x":4.45,"y":1.33},{"p":"Tibet","x":4.51,"y":1.34},{"p":"Tibet","x":4.55,"y":1.35},{"p":"Tibet","x":4.59,"y":1.35},{"p":"Tibet","x":4.64,"y":1.35},{"p":"Tibet","x":4.7,"y":1.35},{"p":"Tibet","x":4.75,"y":1.35},{"p":"Tibet","x":4.81,"y":1.35},{"p":"Tibet","x":4.87,"y":1.35},{"p":"Tibet","x":4.93,"y":1.35},{"p":"Tibet","x":4.98,"y":1.34},{"p":"Tibet","x":5.03,"y":1.35},{"p":"Tibet","x":5.07,"y":1.36},{"p":"Tibet","x":5.1,"y":1.37},{"p":"Tibet","x":5.14,"y":1.38},{"p":"Tibet","x":5.18,"y":1.36},{"p":"Tibet","x":5.23,"y":1.35},{"p":"Tibet","x":5.26,"y":1.34},
{"p":"Shaanxi","x":6.45,"y":2.38},{"p":"Shaanxi","x":6.65,"y":1.92},{"p":"Shaanxi","x":6.67,"y":1.86},{"p":"Shaanxi","x":6.83,"y":2.19},{"p":"Shaanxi","x":6.88,"y":2.2},{"p":"Shaanxi","x":6.93,"y":2.21},{"p":"Shaanxi","x":6.97,"y":2.23},{"p":"Shaanxi","x":7.01,"y":2.26},{"p":"Shaanxi","x":7.06,"y":2.28},{"p":"Shaanxi","x":7.12,"y":2.3},{"p":"Shaanxi","x":7.17,"y":2.36},{"p":"Shaanxi","x":7.22,"y":2.43},{"p":"Shaanxi","x":7.27,"y":2.44},{"p":"Shaanxi","x":7.32,"y":2.44},{"p":"Shaanxi","x":7.38,"y":2.44},{"p":"Shaanxi","x":7.42,"y":2.37},{"p":"Shaanxi","x":7.47,"y":2.34},{"p":"Shaanxi","x":7.53,"y":2.43},{"p":"Shaanxi","x":7.59,"y":2.47},{"p":"Shaanxi","x":7.65,"y":2.53},{"p":"Shaanxi","x":7.72,"y":2.57},{"p":"Shaanxi","x":7.79,"y":2.58},{"p":"Shaanxi","x":7.85,"y":2.59},{"p":"Shaanxi","x":7.92,"y":2.62},{"p":"Shaanxi","x":7.97,"y":2.65},{"p":"Shaanxi","x":8.02,"y":2.72},{"p":"Shaanxi","x":8.06,"y":2.74},{"p":"Shaanxi","x":8.11,"y":2.72},{"p":"Shaanxi","x":8.14,"y":2.68},{"p":"Shaanxi","x":8.17,"y":2.65},{"p":"Shaanxi","x":8.21,"y":2.59},{"p":"Shaanxi","x":8.24,"y":2.56},
{"p":"Gansu","x":5.76,"y":1.79},{"p":"Gansu","x":5.89,"y":1.54},{"p":"Gansu","x":6.29,"y":1.43},{"p":"Gansu","x":6.17,"y":1.63},{"p":"Gansu","x":6.21,"y":1.63},{"p":"Gansu","x":6.25,"y":1.64},{"p":"Gansu","x":6.31,"y":1.63},{"p":"Gansu","x":6.34,"y":1.69},{"p":"Gansu","x":6.38,"y":1.71},{"p":"Gansu","x":6.43,"y":1.72},{"p":"Gansu","x":6.47,"y":1.72},{"p":"Gansu","x":6.52,"y":1.7},{"p":"Gansu","x":6.56,"y":1.7},{"p":"Gansu","x":6.6,"y":1.7},{"p":"Gansu","x":6.64,"y":1.7},{"p":"Gansu","x":6.66,"y":1.66},{"p":"Gansu","x":6.7,"y":1.65},{"p":"Gansu","x":6.72,"y":1.69},{"p":"Gansu","x":6.76,"y":1.75},{"p":"Gansu","x":6.81,"y":1.77},{"p":"Gansu","x":6.85,"y":1.77},{"p":"Gansu","x":6.91,"y":1.78},{"p":"Gansu","x":6.96,"y":1.79},{"p":"Gansu","x":7.02,"y":1.8},{"p":"Gansu","x":7.08,"y":1.8},{"p":"Gansu","x":7.12,"y":1.83},{"p":"Gansu","x":7.16,"y":1.87},{"p":"Gansu","x":7.2,"y":1.87},{"p":"Gansu","x":7.24,"y":1.87},{"p":"Gansu","x":7.27,"y":1.82},{"p":"Gansu","x":7.3,"y":1.82},
{"p":"Qinghai","x":4.56,"y":1.59},{"p":"Qinghai","x":4.91,"y":1.46},{"p":"Qinghai","x":5.05,"y":1.34},{"p":"Qinghai","x":4.93,"y":1.57},{"p":"Qinghai","x":4.97,"y":1.59},{"p":"Qinghai","x":5.02,"y":1.59},{"p":"Qinghai","x":5.06,"y":1.62},{"p":"Qinghai","x":5.1,"y":1.64},{"p":"Qinghai","x":5.14,"y":1.65},{"p":"Qinghai","x":5.19,"y":1.65},{"p":"Qinghai","x":5.25,"y":1.69},{"p":"Qinghai","x":5.29,"y":1.77},{"p":"Qinghai","x":5.35,"y":1.77},{"p":"Qinghai","x":5.41,"y":1.77},{"p":"Qinghai","x":5.46,"y":1.71},{"p":"Qinghai","x":5.49,"y":1.64},{"p":"Qinghai","x":5.51,"y":1.63},{"p":"Qinghai","x":5.55,"y":1.71},{"p":"Qinghai","x":5.6,"y":1.7},{"p":"Qinghai","x":5.65,"y":1.76},{"p":"Qinghai","x":5.69,"y":1.79},{"p":"Qinghai","x":5.74,"y":1.79},{"p":"Qinghai","x":5.78,"y":1.8},{"p":"Qinghai","x":5.84,"y":1.82},{"p":"Qinghai","x":5.9,"y":1.82},{"p":"Qinghai","x":5.95,"y":1.83},{"p":"Qinghai","x":5.99,"y":1.91},{"p":"Qinghai","x":6.04,"y":1.86},{"p":"Qinghai","x":6.09,"y":1.87},{"p":"Qinghai","x":6.13,"y":1.86},{"p":"Qinghai","x":6.16,"y":1.86},{"p":"Qinghai","x":6.21,"y":1.87},
{"p":"Ningxia","x":4.57,"y":1.98},{"p":"Ningxia","x":4.74,"y":1.8},{"p":"Ningxia","x":5.06,"y":1.58},{"p":"Ningxia","x":4.95,"y":1.85},{"p":"Ningxia","x":5.01,"y":1.86},{"p":"Ningxia","x":5.06,"y":1.88},{"p":"Ningxia","x":5.11,"y":1.91},{"p":"Ningxia","x":5.16,"y":1.95},{"p":"Ningxia","x":5.21,"y":1.97},{"p":"Ningxia","x":5.26,"y":2.0},{"p":"Ningxia","x":5.31,"y":2.03},{"p":"Ningxia","x":5.36,"y":2.06},{"p":"Ningxia","x":5.42,"y":2.08},{"p":"Ningxia","x":5.48,"y":2.09},{"p":"Ningxia","x":5.54,"y":2.08},{"p":"Ningxia","x":5.58,"y":1.99},{"p":"Ningxia","x":5.62,"y":1.96},{"p":"Ningxia","x":5.67,"y":1.98},{"p":"Ningxia","x":5.75,"y":2.08},{"p":"Ningxia","x":5.84,"y":2.13},{"p":"Ningxia","x":5.89,"y":2.15},{"p":"Ningxia","x":5.94,"y":2.11},{"p":"Ningxia","x":6.01,"y":2.08},{"p":"Ningxia","x":6.04,"y":2.05},{"p":"Ningxia","x":6.08,"y":2.19},{"p":"Ningxia","x":6.12,"y":2.24},{"p":"Ningxia","x":6.19,"y":2.42},{"p":"Ningxia","x":6.23,"y":2.44},{"p":"Ningxia","x":6.26,"y":2.45},{"p":"Ningxia","x":6.31,"y":2.38},{"p":"Ningxia","x":6.35,"y":2.32},{"p":"Ningxia","x":6.38,"y":2.22},{"p":"Ningxia","x":6.42,"y":2.21},
{"p":"Xinjiang","x":5.86,"y":2.13},{"p":"Xinjiang","x":6.21,"y":1.41},{"p":"Xinjiang","x":6.9,"y":1.41},{"p":"Xinjiang","x":6.48,"y":1.78},{"p":"Xinjiang","x":6.53,"y":1.78},{"p":"Xinjiang","x":6.58,"y":1.79},{"p":"Xinjiang","x":6.62,"y":1.8},{"p":"Xinjiang","x":6.68,"y":1.8},{"p":"Xinjiang","x":6.73,"y":1.78},{"p":"Xinjiang","x":6.77,"y":1.73},{"p":"Xinjiang","x":6.82,"y":1.71},{"p":"Xinjiang","x":6.87,"y":1.7},{"p":"Xinjiang","x":6.92,"y":1.7},{"p":"Xinjiang","x":6.97,"y":1.69},{"p":"Xinjiang","x":7.01,"y":1.7},{"p":"Xinjiang","x":7.07,"y":1.7},{"p":"Xinjiang","x":7.11,"y":1.72},{"p":"Xinjiang","x":7.16,"y":1.74},{"p":"Xinjiang","x":7.21,"y":1.77},{"p":"Xinjiang","x":7.26,"y":1.78},{"p":"Xinjiang","x":7.31,"y":1.79},{"p":"Xinjiang","x":7.36,"y":1.8},{"p":"Xinjiang","x":7.42,"y":1.8},{"p":"Xinjiang","x":7.47,"y":1.8},{"p":"Xinjiang","x":7.52,"y":1.8},{"p":"Xinjiang","x":7.57,"y":1.79}
],
"fit":[
{"p":"China","x":10.4,"y":5.96},{"p":"China","x":12,"y":6.44},
{"p":"Beijing","x":6.8,"y":3.38},{"p":"Beijing","x":8.6,"y":3.84},
{"p":"Tianjin","x":6.5,"y":3.64},{"p":"Tianjin","x":8.3,"y":4.22},
{"p":"Hebei","x":7.5,"y":3.12},{"p":"Hebei","x":9,"y":3.82},
{"p":"Shanxi","x":6.5,"y":2.65},{"p":"Shanxi","x":8.1,"y":3.35},
{"p":"InnerMongolia","x":6.2,"y":1.62},{"p":"InnerMongolia","x":8.4,"y":2.18},
{"p":"Liaoning","x":7.2,"y":2.33},{"p":"Liaoning","x":8.9,"y":3.02},
{"p":"Jilin","x":6.2,"y":1.79},{"p":"Jilin","x":8.2,"y":2.21},
{"p":"Heilongjiang","x":6.9,"y":1.66},{"p":"Heilongjiang","x":8.3,"y":1.95},
{"p":"Shanghai","x":7.4,"y":4.0},{"p":"Shanghai","x":8.7,"y":4.07},
{"p":"Jiangsu","x":8.1,"y":3.34},{"p":"Jiangsu","x":9.7,"y":3.8},
{"p":"Zhejiang","x":7.8,"y":2.75},{"p":"Zhejiang","x":9.2,"y":3.15},
{"p":"Anhui","x":6.9,"y":2.79},{"p":"Anhui","x":8.5,"y":3.42},
{"p":"Fujian","x":7,"y":1.7},{"p":"Fujian","x":8.7,"y":1.98},
{"p":"Jiangxi","x":6.5,"y":1.86},{"p":"Jiangxi","x":8.2,"y":2.39},
{"p":"Shandong","x":8.1,"y":3.21},{"p":"Shandong","x":9.6,"y":3.96},
{"p":"Henan","x":7.6,"y":2.99},{"p":"Henan","x":9.1,"y":3.66},
{"p":"Hubei","x":7.3,"y":2.27},{"p":"Hubei","x":8.8,"y":2.89},
{"p":"Hunan","x":7.1,"y":1.86},{"p":"Hunan","x":8.8,"y":2.51},
{"p":"Guangdong","x":8.2,"y":2.57},{"p":"Guangdong","x":9.7,"y":2.47},
{"p":"Guangxi","x":6.5,"y":1.65},{"p":"Guangxi","x":8.2,"y":1.94},
{"p":"Hainan","x":5,"y":1.5},{"p":"Hainan","x":6.7,"y":1.65},
{"p":"Chongqing","x":6.4,"y":2.13},{"p":"Chongqing","x":8.1,"y":2.57},
{"p":"Sichuan","x":7.2,"y":2.08},{"p":"Sichuan","x":8.9,"y":2.33},
{"p":"Guizhou","x":5.7,"y":1.6},{"p":"Guizhou","x":7.6,"y":2.18},
{"p":"Yunnan","x":6.4,"y":1.49},{"p":"Yunnan","x":8,"y":1.63},
{"p":"Tibet","x":3.7,"y":1.325},{"p":"Tibet","x":5.4,"y":1.358},
{"p":"Shaanxi","x":6.4,"y":2.04},{"p":"Shaanxi","x":8.4,"y":2.75},
{"p":"Gansu","x":5.7,"y":1.55},{"p":"Gansu","x":7.4,"y":1.85},
{"p":"Qinghai","x":4.5,"y":1.47},{"p":"Qinghai","x":6.3,"y":1.9},
{"p":"Ningxia","x":4.5,"y":1.69},{"p":"Ningxia","x":6.5,"y":2.35},
{"p":"Xinjiang","x":5.8,"y":1.76},{"p":"Xinjiang","x":7.7,"y":1.75}
]
},
"config":{
"view":{"stroke":null},
"point":{"shape":"M-1,0L1,0M0,-1L0,1","size":196,"filled":false,"color":"#0000ff","strokeWidth":1,"opacity":1},
"line":{"color":"#0000ff","strokeWidth":1.2},
"text":{"font":"Liberation Serif","fontSize":25,"color":"#2a2aff","align":"left","baseline":"alphabetic"},
"axis":{"grid":false,"labelFont":"Liberation Sans","labelFontSize":22,"labelColor":"#000","domainColor":"#000","domainWidth":1,"tickColor":"#000","tickSize":-4,"labelFlush":false,"labelOverlap":false,"format":"~g"},
"axisX":{"labelPadding":16},
"axisY":{"labelPadding":12},
"title":{"font":"Liberation Sans","fontSize":24,"fontWeight":"normal","color":"#000","anchor":"middle","baseline":"alphabetic","offset":6}
},
"concat":[
{"title":"China","width":241,"height":130,"layer":[{"data":{"name":"pts"},"transform":[{"filter":"datum.p==='China'"}],"mark":"point","encoding":{"x":{"field":"x","type":"quantitative","title":null,"scale":{"domain":[10.4,12],"nice":false,"zero":false},"axis":{"values":[10.4,12]}},"y":{"field":"y","type":"quantitative","title":null,"scale":{"domain":[5.6,6.5],"nice":false,"zero":false},"axis":{"values":[5.6,6.5]}}}},{"data":{"name":"fit"},"transform":[{"filter":"datum.p==='China'"}],"mark":"line","encoding":{"x":{"field":"x","type":"quantitative"},"y":{"field":"y","type":"quantitative"}}},{"data":{"values":[{}]},"mark":{"type":"text","text":"\u03b2","fontStyle":"italic","dx":158,"dy":-14},"encoding":{"x":{"datum":10.4,"type":"quantitative"},"y":{"datum":5.6,"type":"quantitative"}}},{"data":{"values":[{}]},"mark":{"type":"text","text":"\u02c6","dx":162,"dy":-21},"encoding":{"x":{"datum":10.4,"type":"quantitative"},"y":{"datum":5.6,"type":"quantitative"}}},{"data":{"values":[{}]},"mark":{"type":"text","text":"= 0 . 3","dx":176,"dy":-14},"encoding":{"x":{"datum":10.4,"type":"quantitative"},"y":{"datum":5.6,"type":"quantitative"}}}]},
{"title":"Beijing","width":241,"height":130,"layer":[{"data":{"name":"pts"},"transform":[{"filter":"datum.p==='Beijing'"}],"mark":"point","encoding":{"x":{"field":"x","type":"quantitative","title":null,"scale":{"domain":[6.8,8.6],"nice":false,"zero":false},"axis":{"values":[6.8,8.6]}},"y":{"field":"y","type":"quantitative","title":null,"scale":{"domain":[2.9,4],"nice":false,"zero":false},"axis":{"values":[2.9,4]}}}},{"data":{"name":"fit"},"transform":[{"filter":"datum.p==='Beijing'"}],"mark":"line","encoding":{"x":{"field":"x","type":"quantitative"},"y":{"field":"y","type":"quantitative"}}},{"data":{"values":[{}]},"mark":{"type":"text","text":"\u03b2","fontStyle":"italic","dx":158,"dy":-14},"encoding":{"x":{"datum":6.8,"type":"quantitative"},"y":{"datum":2.9,"type":"quantitative"}}},{"data":{"values":[{}]},"mark":{"type":"text","text":"\u02c6","dx":162,"dy":-21},"encoding":{"x":{"datum":6.8,"type":"quantitative"},"y":{"datum":2.9,"type":"quantitative"}}},{"data":{"values":[{}]},"mark":{"type":"text","text":"= 0 . 3","dx":176,"dy":-14},"encoding":{"x":{"datum":6.8,"type":"quantitative"},"y":{"datum":2.9,"type":"quantitative"}}}]},
{"title":"Tianjin","width":241,"height":130,"layer":[{"data":{"name":"pts"},"transform":[{"filter":"datum.p==='Tianjin'"}],"mark":"point","encoding":{"x":{"field":"x","type":"quantitative","title":null,"scale":{"domain":[6.5,8.3],"nice":false,"zero":false},"axis":{"values":[6.5,8.3]}},"y":{"field":"y","type":"quantitative","title":null,"scale":{"domain":[3.2,4.3],"nice":false,"zero":false},"axis":{"values":[3.2,4.3]}}}},{"data":{"name":"fit"},"transform":[{"filter":"datum.p==='Tianjin'"}],"mark":"line","encoding":{"x":{"field":"x","type":"quantitative"},"y":{"field":"y","type":"quantitative"}}},{"data":{"values":[{}]},"mark":{"type":"text","text":"\u03b2","fontStyle":"italic","dx":158,"dy":-14},"encoding":{"x":{"datum":6.5,"type":"quantitative"},"y":{"datum":3.2,"type":"quantitative"}}},{"data":{"values":[{}]},"mark":{"type":"text","text":"\u02c6","dx":162,"dy":-21},"encoding":{"x":{"datum":6.5,"type":"quantitative"},"y":{"datum":3.2,"type":"quantitative"}}},{"data":{"values":[{}]},"mark":{"type":"text","text":"= 0 . 3","dx":176,"dy":-14},"encoding":{"x":{"datum":6.5,"type":"quantitative"},"y":{"datum":3.2,"type":"quantitative"}}}]},
{"title":"Hebei","width":241,"height":130,"layer":[{"data":{"name":"pts"},"transform":[{"filter":"datum.p==='Hebei'"}],"mark":"point","encoding":{"x":{"field":"x","type":"quantitative","title":null,"scale":{"domain":[7.5,9],"nice":false,"zero":false},"axis":{"values":[7.5,9]}},"y":{"field":"y","type":"quantitative","title":null,"scale":{"domain":[2.7,3.9],"nice":false,"zero":false},"axis":{"values":[2.7,3.9]}}}},{"data":{"name":"fit"},"transform":[{"filter":"datum.p==='Hebei'"}],"mark":"line","encoding":{"x":{"field":"x","type":"quantitative"},"y":{"field":"y","type":"quantitative"}}},{"data":{"values":[{}]},"mark":{"type":"text","text":"\u03b2","fontStyle":"italic","dx":158,"dy":-14},"encoding":{"x":{"datum":7.5,"type":"quantitative"},"y":{"datum":2.7,"type":"quantitative"}}},{"data":{"values":[{}]},"mark":{"type":"text","text":"\u02c6","dx":162,"dy":-21},"encoding":{"x":{"datum":7.5,"type":"quantitative"},"y":{"datum":2.7,"type":"quantitative"}}},{"data":{"values":[{}]},"mark":{"type":"text","text":"= 0 . 5","dx":176,"dy":-14},"encoding":{"x":{"datum":7.5,"type":"quantitative"},"y":{"datum":2.7,"type":"quantitative"}}}]},
{"title":"Shanxi","width":241,"height":130,"layer":[{"data":{"name":"pts"},"transform":[{"filter":"datum.p==='Shanxi'"}],"mark":"point","encoding":{"x":{"field":"x","type":"quantitative","title":null,"scale":{"domain":[6.5,8.1],"nice":false,"zero":false},"axis":{"values":[6.5,8.1]}},"y":{"field":"y","type":"quantitative","title":null,"scale":{"domain":[2.5,3.5],"nice":false,"zero":false},"axis":{"values":[2.5,3.5]}}}},{"data":{"name":"fit"},"transform":[{"filter":"datum.p==='Shanxi'"}],"mark":"line","encoding":{"x":{"field":"x","type":"quantitative"},"y":{"field":"y","type":"quantitative"}}},{"data":{"values":[{}]},"mark":{"type":"text","text":"\u03b2","fontStyle":"italic","dx":158,"dy":-14},"encoding":{"x":{"datum":6.5,"type":"quantitative"},"y":{"datum":2.5,"type":"quantitative"}}},{"data":{"values":[{}]},"mark":{"type":"text","text":"\u02c6","dx":162,"dy":-21},"encoding":{"x":{"datum":6.5,"type":"quantitative"},"y":{"datum":2.5,"type":"quantitative"}}},{"data":{"values":[{}]},"mark":{"type":"text","text":"= 0 . 4","dx":176,"dy":-14},"encoding":{"x":{"datum":6.5,"type":"quantitative"},"y":{"datum":2.5,"type":"quantitative"}}}]},
{"title":"InnerMongolia","width":241,"height":130,"layer":[{"data":{"name":"pts"},"transform":[{"filter":"datum.p==='InnerMongolia'"}],"mark":"point","encoding":{"x":{"field":"x","type":"quantitative","title":null,"scale":{"domain":[6.2,8.4],"nice":false,"zero":false},"axis":{"values":[6.2,8.4]}},"y":{"field":"y","type":"quantitative","title":null,"scale":{"domain":[1.4,2.3],"nice":false,"zero":false},"axis":{"values":[1.4,2.3]}}}},{"data":{"name":"fit"},"transform":[{"filter":"datum.p==='InnerMongolia'"}],"mark":"line","encoding":{"x":{"field":"x","type":"quantitative"},"y":{"field":"y","type":"quantitative"}}},{"data":{"values":[{}]},"mark":{"type":"text","text":"\u03b2","fontStyle":"italic","dx":158,"dy":-14},"encoding":{"x":{"datum":6.2,"type":"quantitative"},"y":{"datum":1.4,"type":"quantitative"}}},{"data":{"values":[{}]},"mark":{"type":"text","text":"\u02c6","dx":162,"dy":-21},"encoding":{"x":{"datum":6.2,"type":"quantitative"},"y":{"datum":1.4,"type":"quantitative"}}},{"data":{"values":[{}]},"mark":{"type":"text","text":"= 0 . 3","dx":176,"dy":-14},"encoding":{"x":{"datum":6.2,"type":"quantitative"},"y":{"datum":1.4,"type":"quantitative"}}}]},
{"title":"Liaoning","width":241,"height":130,"layer":[{"data":{"name":"pts"},"transform":[{"filter":"datum.p==='Liaoning'"}],"mark":"point","encoding":{"x":{"field":"x","type":"quantitative","title":null,"scale":{"domain":[7.2,8.9],"nice":false,"zero":false},"axis":{"values":[7.2,8.9]}},"y":{"field":"y","type":"quantitative","title":null,"scale":{"domain":[2.1,3.1],"nice":false,"zero":false},"axis":{"values":[2.1,3.1]}}}},{"data":{"name":"fit"},"transform":[{"filter":"datum.p==='Liaoning'"}],"mark":"line","encoding":{"x":{"field":"x","type":"quantitative"},"y":{"field":"y","type":"quantitative"}}},{"data":{"values":[{}]},"mark":{"type":"text","text":"\u03b2","fontStyle":"italic","dx":158,"dy":-14},"encoding":{"x":{"datum":7.2,"type":"quantitative"},"y":{"datum":2.1,"type":"quantitative"}}},{"data":{"values":[{}]},"mark":{"type":"text","text":"\u02c6","dx":162,"dy":-21},"encoding":{"x":{"datum":7.2,"type":"quantitative"},"y":{"datum":2.1,"type":"quantitative"}}},{"data":{"values":[{}]},"mark":{"type":"text","text":"= 0 . 4","dx":176,"dy":-14},"encoding":{"x":{"datum":7.2,"type":"quantitative"},"y":{"datum":2.1,"type":"quantitative"}}}]},
{"title":"Jilin","width":241,"height":130,"layer":[{"data":{"name":"pts"},"transform":[{"filter":"datum.p==='Jilin'"}],"mark":"point","encoding":{"x":{"field":"x","type":"quantitative","title":null,"scale":{"domain":[6.2,8.2],"nice":false,"zero":false},"axis":{"values":[6.2,8.2]}},"y":{"field":"y","type":"quantitative","title":null,"scale":{"domain":[1.4,2.3],"nice":false,"zero":false},"axis":{"values":[1.4,2.3]}}}},{"data":{"name":"fit"},"transform":[{"filter":"datum.p==='Jilin'"}],"mark":"line","encoding":{"x":{"field":"x","type":"quantitative"},"y":{"field":"y","type":"quantitative"}}},{"data":{"values":[{}]},"mark":{"type":"text","text":"\u03b2","fontStyle":"italic","dx":158,"dy":-14},"encoding":{"x":{"datum":6.2,"type":"quantitative"},"y":{"datum":1.4,"type":"quantitative"}}},{"data":{"values":[{}]},"mark":{"type":"text","text":"\u02c6","dx":162,"dy":-21},"encoding":{"x":{"datum":6.2,"type":"quantitative"},"y":{"datum":1.4,"type":"quantitative"}}},{"data":{"values":[{}]},"mark":{"type":"text","text":"= 0 . 2","dx":176,"dy":-14},"encoding":{"x":{"datum":6.2,"type":"quantitative"},"y":{"datum":1.4,"type":"quantitative"}}}]},
{"title":"Heilongjiang","width":241,"height":130,"layer":[{"data":{"name":"pts"},"transform":[{"filter":"datum.p==='Heilongjiang'"}],"mark":"point","encoding":{"x":{"field":"x","type":"quantitative","title":null,"scale":{"domain":[6.9,8.3],"nice":false,"zero":false},"axis":{"values":[6.9,8.3]}},"y":{"field":"y","type":"quantitative","title":null,"scale":{"domain":[1.4,2.2],"nice":false,"zero":false},"axis":{"values":[1.4,2.2]}}}},{"data":{"name":"fit"},"transform":[{"filter":"datum.p==='Heilongjiang'"}],"mark":"line","encoding":{"x":{"field":"x","type":"quantitative"},"y":{"field":"y","type":"quantitative"}}},{"data":{"values":[{}]},"mark":{"type":"text","text":"\u03b2","fontStyle":"italic","dx":158,"dy":-14},"encoding":{"x":{"datum":6.9,"type":"quantitative"},"y":{"datum":1.4,"type":"quantitative"}}},{"data":{"values":[{}]},"mark":{"type":"text","text":"\u02c6","dx":162,"dy":-21},"encoding":{"x":{"datum":6.9,"type":"quantitative"},"y":{"datum":1.4,"type":"quantitative"}}},{"data":{"values":[{}]},"mark":{"type":"text","text":"= 0 . 2","dx":176,"dy":-14},"encoding":{"x":{"datum":6.9,"type":"quantitative"},"y":{"datum":1.4,"type":"quantitative"}}}]},
{"title":"Shanghai","width":241,"height":130,"layer":[{"data":{"name":"pts"},"transform":[{"filter":"datum.p==='Shanghai'"}],"mark":"point","encoding":{"x":{"field":"x","type":"quantitative","title":null,"scale":{"domain":[7.4,8.7],"nice":false,"zero":false},"axis":{"values":[7.4,8.7]}},"y":{"field":"y","type":"quantitative","title":null,"scale":{"domain":[3.5,4.3],"nice":false,"zero":false},"axis":{"values":[3.5,4.3]}}}},{"data":{"name":"fit"},"transform":[{"filter":"datum.p==='Shanghai'"}],"mark":"line","encoding":{"x":{"field":"x","type":"quantitative"},"y":{"field":"y","type":"quantitative"}}},{"data":{"values":[{}]},"mark":{"type":"text","text":"\u03b2","fontStyle":"italic","dx":158,"dy":-14},"encoding":{"x":{"datum":7.4,"type":"quantitative"},"y":{"datum":3.5,"type":"quantitative"}}},{"data":{"values":[{}]},"mark":{"type":"text","text":"\u02c6","dx":162,"dy":-21},"encoding":{"x":{"datum":7.4,"type":"quantitative"},"y":{"datum":3.5,"type":"quantitative"}}},{"data":{"values":[{}]},"mark":{"type":"text","text":"= 0 . 1","dx":176,"dy":-14},"encoding":{"x":{"datum":7.4,"type":"quantitative"},"y":{"datum":3.5,"type":"quantitative"}}}]},
{"title":"Jiangsu","width":241,"height":130,"layer":[{"data":{"name":"pts"},"transform":[{"filter":"datum.p==='Jiangsu'"}],"mark":"point","encoding":{"x":{"field":"x","type":"quantitative","title":null,"scale":{"domain":[8.1,9.7],"nice":false,"zero":false},"axis":{"values":[8.1,9.7]}},"y":{"field":"y","type":"quantitative","title":null,"scale":{"domain":[2.7,3.9],"nice":false,"zero":false},"axis":{"values":[2.7,3.9]}}}},{"data":{"name":"fit"},"transform":[{"filter":"datum.p==='Jiangsu'"}],"mark":"line","encoding":{"x":{"field":"x","type":"quantitative"},"y":{"field":"y","type":"quantitative"}}},{"data":{"values":[{}]},"mark":{"type":"text","text":"\u03b2","fontStyle":"italic","dx":158,"dy":-14},"encoding":{"x":{"datum":8.1,"type":"quantitative"},"y":{"datum":2.7,"type":"quantitative"}}},{"data":{"values":[{}]},"mark":{"type":"text","text":"\u02c6","dx":162,"dy":-21},"encoding":{"x":{"datum":8.1,"type":"quantitative"},"y":{"datum":2.7,"type":"quantitative"}}},{"data":{"values":[{}]},"mark":{"type":"text","text":"= 0 . 3","dx":176,"dy":-14},"encoding":{"x":{"datum":8.1,"type":"quantitative"},"y":{"datum":2.7,"type":"quantitative"}}}]},
{"title":"Zhejiang","width":241,"height":130,"layer":[{"data":{"name":"pts"},"transform":[{"filter":"datum.p==='Zhejiang'"}],"mark":"point","encoding":{"x":{"field":"x","type":"quantitative","title":null,"scale":{"domain":[7.8,9.2],"nice":false,"zero":false},"axis":{"values":[7.8,9.2]}},"y":{"field":"y","type":"quantitative","title":null,"scale":{"domain":[2.1,3.5],"nice":false,"zero":false},"axis":{"values":[2.1,3.5]}}}},{"data":{"name":"fit"},"transform":[{"filter":"datum.p==='Zhejiang'"}],"mark":"line","encoding":{"x":{"field":"x","type":"quantitative"},"y":{"field":"y","type":"quantitative"}}},{"data":{"values":[{}]},"mark":{"type":"text","text":"\u03b2","fontStyle":"italic","dx":158,"dy":-14},"encoding":{"x":{"datum":7.8,"type":"quantitative"},"y":{"datum":2.1,"type":"quantitative"}}},{"data":{"values":[{}]},"mark":{"type":"text","text":"\u02c6","dx":162,"dy":-21},"encoding":{"x":{"datum":7.8,"type":"quantitative"},"y":{"datum":2.1,"type":"quantitative"}}},{"data":{"values":[{}]},"mark":{"type":"text","text":"= 0 . 3","dx":176,"dy":-14},"encoding":{"x":{"datum":7.8,"type":"quantitative"},"y":{"datum":2.1,"type":"quantitative"}}}]},
{"title":"Anhui","width":241,"height":130,"layer":[{"data":{"name":"pts"},"transform":[{"filter":"datum.p==='Anhui'"}],"mark":"point","encoding":{"x":{"field":"x","type":"quantitative","title":null,"scale":{"domain":[6.9,8.5],"nice":false,"zero":false},"axis":{"values":[6.9,8.5]}},"y":{"field":"y","type":"quantitative","title":null,"scale":{"domain":[2.2,3.5],"nice":false,"zero":false},"axis":{"values":[2.2,3.5]}}}},{"data":{"name":"fit"},"transform":[{"filter":"datum.p==='Anhui'"}],"mark":"line","encoding":{"x":{"field":"x","type":"quantitative"},"y":{"field":"y","type":"quantitative"}}},{"data":{"values":[{}]},"mark":{"type":"text","text":"\u03b2","fontStyle":"italic","dx":158,"dy":-14},"encoding":{"x":{"datum":6.9,"type":"quantitative"},"y":{"datum":2.2,"type":"quantitative"}}},{"data":{"values":[{}]},"mark":{"type":"text","text":"\u02c6","dx":162,"dy":-21},"encoding":{"x":{"datum":6.9,"type":"quantitative"},"y":{"datum":2.2,"type":"quantitative"}}},{"data":{"values":[{}]},"mark":{"type":"text","text":"= 0 . 4","dx":176,"dy":-14},"encoding":{"x":{"datum":6.9,"type":"quantitative"},"y":{"datum":2.2,"type":"quantitative"}}}]},
{"title":"Fujian","width":241,"height":130,"layer":[{"data":{"name":"pts"},"transform":[{"filter":"datum.p==='Fujian'"}],"mark":"point","encoding":{"x":{"field":"x","type":"quantitative","title":null,"scale":{"domain":[7,8.7],"nice":false,"zero":false},"axis":{"values":[7,8.7]}},"y":{"field":"y","type":"quantitative","title":null,"scale":{"domain":[1.5,2.2],"nice":false,"zero":false},"axis":{"values":[1.5,2.2]}}}},{"data":{"name":"fit"},"transform":[{"filter":"datum.p==='Fujian'"}],"mark":"line","encoding":{"x":{"field":"x","type":"quantitative"},"y":{"field":"y","type":"quantitative"}}},{"data":{"values":[{}]},"mark":{"type":"text","text":"\u03b2","fontStyle":"italic","dx":158,"dy":-14},"encoding":{"x":{"datum":7,"type":"quantitative"},"y":{"datum":1.5,"type":"quantitative"}}},{"data":{"values":[{}]},"mark":{"type":"text","text":"\u02c6","dx":162,"dy":-21},"encoding":{"x":{"datum":7,"type":"quantitative"},"y":{"datum":1.5,"type":"quantitative"}}},{"data":{"values":[{}]},"mark":{"type":"text","text":"= 0 . 2","dx":176,"dy":-14},"encoding":{"x":{"datum":7,"type":"quantitative"},"y":{"datum":1.5,"type":"quantitative"}}}]},
{"title":"Jiangxi","width":241,"height":130,"layer":[{"data":{"name":"pts"},"transform":[{"filter":"datum.p==='Jiangxi'"}],"mark":"point","encoding":{"x":{"field":"x","type":"quantitative","title":null,"scale":{"domain":[6.5,8.2],"nice":false,"zero":false},"axis":{"values":[6.5,8.2]}},"y":{"field":"y","type":"quantitative","title":null,"scale":{"domain":[1.5,2.6],"nice":false,"zero":false},"axis":{"values":[1.5,2.6]}}}},{"data":{"name":"fit"},"transform":[{"filter":"datum.p==='Jiangxi'"}],"mark":"line","encoding":{"x":{"field":"x","type":"quantitative"},"y":{"field":"y","type":"quantitative"}}},{"data":{"values":[{}]},"mark":{"type":"text","text":"\u03b2","fontStyle":"italic","dx":158,"dy":-14},"encoding":{"x":{"datum":6.5,"type":"quantitative"},"y":{"datum":1.5,"type":"quantitative"}}},{"data":{"values":[{}]},"mark":{"type":"text","text":"\u02c6","dx":162,"dy":-21},"encoding":{"x":{"datum":6.5,"type":"quantitative"},"y":{"datum":1.5,"type":"quantitative"}}},{"data":{"values":[{}]},"mark":{"type":"text","text":"= 0 . 3","dx":176,"dy":-14},"encoding":{"x":{"datum":6.5,"type":"quantitative"},"y":{"datum":1.5,"type":"quantitative"}}}]},
{"title":"Shandong","width":241,"height":130,"layer":[{"data":{"name":"pts"},"transform":[{"filter":"datum.p==='Shandong'"}],"mark":"point","encoding":{"x":{"field":"x","type":"quantitative","title":null,"scale":{"domain":[8.1,9.6],"nice":false,"zero":false},"axis":{"values":[8.1,9.6]}},"y":{"field":"y","type":"quantitative","title":null,"scale":{"domain":[2.7,4],"nice":false,"zero":false},"axis":{"values":[2.7,4]}}}},{"data":{"name":"fit"},"transform":[{"filter":"datum.p==='Shandong'"}],"mark":"line","encoding":{"x":{"field":"x","type":"quantitative"},"y":{"field":"y","type":"quantitative"}}},{"data":{"values":[{}]},"mark":{"type":"text","text":"\u03b2","fontStyle":"italic","dx":158,"dy":-14},"encoding":{"x":{"datum":8.1,"type":"quantitative"},"y":{"datum":2.7,"type":"quantitative"}}},{"data":{"values":[{}]},"mark":{"type":"text","text":"\u02c6","dx":162,"dy":-21},"encoding":{"x":{"datum":8.1,"type":"quantitative"},"y":{"datum":2.7,"type":"quantitative"}}},{"data":{"values":[{}]},"mark":{"type":"text","text":"= 0 . 5","dx":176,"dy":-14},"encoding":{"x":{"datum":8.1,"type":"quantitative"},"y":{"datum":2.7,"type":"quantitative"}}}]},
{"title":"Henan","width":241,"height":130,"layer":[{"data":{"name":"pts"},"transform":[{"filter":"datum.p==='Henan'"}],"mark":"point","encoding":{"x":{"field":"x","type":"quantitative","title":null,"scale":{"domain":[7.6,9.1],"nice":false,"zero":false},"axis":{"values":[7.6,9.1]}},"y":{"field":"y","type":"quantitative","title":null,"scale":{"domain":[2.5,3.7],"nice":false,"zero":false},"axis":{"values":[2.5,3.7]}}}},{"data":{"name":"fit"},"transform":[{"filter":"datum.p==='Henan'"}],"mark":"line","encoding":{"x":{"field":"x","type":"quantitative"},"y":{"field":"y","type":"quantitative"}}},{"data":{"values":[{}]},"mark":{"type":"text","text":"\u03b2","fontStyle":"italic","dx":158,"dy":-14},"encoding":{"x":{"datum":7.6,"type":"quantitative"},"y":{"datum":2.5,"type":"quantitative"}}},{"data":{"values":[{}]},"mark":{"type":"text","text":"\u02c6","dx":162,"dy":-21},"encoding":{"x":{"datum":7.6,"type":"quantitative"},"y":{"datum":2.5,"type":"quantitative"}}},{"data":{"values":[{}]},"mark":{"type":"text","text":"= 0 . 4","dx":176,"dy":-14},"encoding":{"x":{"datum":7.6,"type":"quantitative"},"y":{"datum":2.5,"type":"quantitative"}}}]},
{"title":"Hubei","width":241,"height":130,"layer":[{"data":{"name":"pts"},"transform":[{"filter":"datum.p==='Hubei'"}],"mark":"point","encoding":{"x":{"field":"x","type":"quantitative","title":null,"scale":{"domain":[7.3,8.8],"nice":false,"zero":false},"axis":{"values":[7.3,8.8]}},"y":{"field":"y","type":"quantitative","title":null,"scale":{"domain":[1.8,3],"nice":false,"zero":false},"axis":{"values":[1.8,3]}}}},{"data":{"name":"fit"},"transform":[{"filter":"datum.p==='Hubei'"}],"mark":"line","encoding":{"x":{"field":"x","type":"quantitative"},"y":{"field":"y","type":"quantitative"}}},{"data":{"values":[{}]},"mark":{"type":"text","text":"\u03b2","fontStyle":"italic","dx":158,"dy":-14},"encoding":{"x":{"datum":7.3,"type":"quantitative"},"y":{"datum":1.8,"type":"quantitative"}}},{"data":{"values":[{}]},"mark":{"type":"text","text":"\u02c6","dx":162,"dy":-21},"encoding":{"x":{"datum":7.3,"type":"quantitative"},"y":{"datum":1.8,"type":"quantitative"}}},{"data":{"values":[{}]},"mark":{"type":"text","text":"= 0 . 4","dx":176,"dy":-14},"encoding":{"x":{"datum":7.3,"type":"quantitative"},"y":{"datum":1.8,"type":"quantitative"}}}]},
{"title":"Hunan","width":241,"height":130,"layer":[{"data":{"name":"pts"},"transform":[{"filter":"datum.p==='Hunan'"}],"mark":"point","encoding":{"x":{"field":"x","type":"quantitative","title":null,"scale":{"domain":[7.1,8.8],"nice":false,"zero":false},"axis":{"values":[7.1,8.8]}},"y":{"field":"y","type":"quantitative","title":null,"scale":{"domain":[1.5,2.9],"nice":false,"zero":false},"axis":{"values":[1.5,2.9]}}}},{"data":{"name":"fit"},"transform":[{"filter":"datum.p==='Hunan'"}],"mark":"line","encoding":{"x":{"field":"x","type":"quantitative"},"y":{"field":"y","type":"quantitative"}}},{"data":{"values":[{}]},"mark":{"type":"text","text":"\u03b2","fontStyle":"italic","dx":158,"dy":-14},"encoding":{"x":{"datum":7.1,"type":"quantitative"},"y":{"datum":1.5,"type":"quantitative"}}},{"data":{"values":[{}]},"mark":{"type":"text","text":"\u02c6","dx":162,"dy":-21},"encoding":{"x":{"datum":7.1,"type":"quantitative"},"y":{"datum":1.5,"type":"quantitative"}}},{"data":{"values":[{}]},"mark":{"type":"text","text":"= 0 . 4","dx":176,"dy":-14},"encoding":{"x":{"datum":7.1,"type":"quantitative"},"y":{"datum":1.5,"type":"quantitative"}}}]},
{"title":"Guangdong","width":241,"height":130,"layer":[{"data":{"name":"pts"},"transform":[{"filter":"datum.p==='Guangdong'"}],"mark":"point","encoding":{"x":{"field":"x","type":"quantitative","title":null,"scale":{"domain":[8.2,9.7],"nice":false,"zero":false},"axis":{"values":[8.2,9.7]}},"y":{"field":"y","type":"quantitative","title":null,"scale":{"domain":[2.1,3],"nice":false,"zero":false},"axis":{"values":[2.1,3]}}}},{"data":{"name":"fit"},"transform":[{"filter":"datum.p==='Guangdong'"}],"mark":"line","encoding":{"x":{"field":"x","type":"quantitative"},"y":{"field":"y","type":"quantitative"}}},{"data":{"values":[{}]},"mark":{"type":"text","text":"\u03b2","fontStyle":"italic","dx":158,"dy":-14},"encoding":{"x":{"datum":8.2,"type":"quantitative"},"y":{"datum":2.1,"type":"quantitative"}}},{"data":{"values":[{}]},"mark":{"type":"text","text":"\u02c6","dx":162,"dy":-21},"encoding":{"x":{"datum":8.2,"type":"quantitative"},"y":{"datum":2.1,"type":"quantitative"}}},{"data":{"values":[{}]},"mark":{"type":"text","text":"= - 0 . 1","dx":176,"dy":-14},"encoding":{"x":{"datum":8.2,"type":"quantitative"},"y":{"datum":2.1,"type":"quantitative"}}}]},
{"title":"Guangxi","width":241,"height":130,"layer":[{"data":{"name":"pts"},"transform":[{"filter":"datum.p==='Guangxi'"}],"mark":"point","encoding":{"x":{"field":"x","type":"quantitative","title":null,"scale":{"domain":[6.5,8.2],"nice":false,"zero":false},"axis":{"values":[6.5,8.2]}},"y":{"field":"y","type":"quantitative","title":null,"scale":{"domain":[1.4,2.1],"nice":false,"zero":false},"axis":{"values":[1.4,2.1]}}}},{"data":{"name":"fit"},"transform":[{"filter":"datum.p==='Guangxi'"}],"mark":"line","encoding":{"x":{"field":"x","type":"quantitative"},"y":{"field":"y","type":"quantitative"}}},{"data":{"values":[{}]},"mark":{"type":"text","text":"\u03b2","fontStyle":"italic","dx":158,"dy":-14},"encoding":{"x":{"datum":6.5,"type":"quantitative"},"y":{"datum":1.4,"type":"quantitative"}}},{"data":{"values":[{}]},"mark":{"type":"text","text":"\u02c6","dx":162,"dy":-21},"encoding":{"x":{"datum":6.5,"type":"quantitative"},"y":{"datum":1.4,"type":"quantitative"}}},{"data":{"values":[{}]},"mark":{"type":"text","text":"= 0 . 2","dx":176,"dy":-14},"encoding":{"x":{"datum":6.5,"type":"quantitative"},"y":{"datum":1.4,"type":"quantitative"}}}]},
{"title":"Hainan","width":241,"height":130,"layer":[{"data":{"name":"pts"},"transform":[{"filter":"datum.p==='Hainan'"}],"mark":"point","encoding":{"x":{"field":"x","type":"quantitative","title":null,"scale":{"domain":[5,6.7],"nice":false,"zero":false},"axis":{"values":[5,6.7]}},"y":{"field":"y","type":"quantitative","title":null,"scale":{"domain":[1.3,1.9],"nice":false,"zero":false},"axis":{"values":[1.3,1.9]}}}},{"data":{"name":"fit"},"transform":[{"filter":"datum.p==='Hainan'"}],"mark":"line","encoding":{"x":{"field":"x","type":"quantitative"},"y":{"field":"y","type":"quantitative"}}},{"data":{"values":[{}]},"mark":{"type":"text","text":"\u03b2","fontStyle":"italic","dx":158,"dy":-14},"encoding":{"x":{"datum":5,"type":"quantitative"},"y":{"datum":1.3,"type":"quantitative"}}},{"data":{"values":[{}]},"mark":{"type":"text","text":"\u02c6","dx":162,"dy":-21},"encoding":{"x":{"datum":5,"type":"quantitative"},"y":{"datum":1.3,"type":"quantitative"}}},{"data":{"values":[{}]},"mark":{"type":"text","text":"= 0 . 1","dx":176,"dy":-14},"encoding":{"x":{"datum":5,"type":"quantitative"},"y":{"datum":1.3,"type":"quantitative"}}}]},
{"title":"Chongqing","width":241,"height":130,"layer":[{"data":{"name":"pts"},"transform":[{"filter":"datum.p==='Chongqing'"}],"mark":"point","encoding":{"x":{"field":"x","type":"quantitative","title":null,"scale":{"domain":[6.4,8.1],"nice":false,"zero":false},"axis":{"values":[6.4,8.1]}},"y":{"field":"y","type":"quantitative","title":null,"scale":{"domain":[1.8,2.7],"nice":false,"zero":false},"axis":{"values":[1.8,2.7]}}}},{"data":{"name":"fit"},"transform":[{"filter":"datum.p==='Chongqing'"}],"mark":"line","encoding":{"x":{"field":"x","type":"quantitative"},"y":{"field":"y","type":"quantitative"}}},{"data":{"values":[{}]},"mark":{"type":"text","text":"\u03b2","fontStyle":"italic","dx":158,"dy":-14},"encoding":{"x":{"datum":6.4,"type":"quantitative"},"y":{"datum":1.8,"type":"quantitative"}}},{"data":{"values":[{}]},"mark":{"type":"text","text":"\u02c6","dx":162,"dy":-21},"encoding":{"x":{"datum":6.4,"type":"quantitative"},"y":{"datum":1.8,"type":"quantitative"}}},{"data":{"values":[{}]},"mark":{"type":"text","text":"= 0 . 3","dx":176,"dy":-14},"encoding":{"x":{"datum":6.4,"type":"quantitative"},"y":{"datum":1.8,"type":"quantitative"}}}]},
{"title":"Sichuan","width":241,"height":130,"layer":[{"data":{"name":"pts"},"transform":[{"filter":"datum.p==='Sichuan'"}],"mark":"point","encoding":{"x":{"field":"x","type":"quantitative","title":null,"scale":{"domain":[7.2,8.9],"nice":false,"zero":false},"axis":{"values":[7.2,8.9]}},"y":{"field":"y","type":"quantitative","title":null,"scale":{"domain":[1.8,2.5],"nice":false,"zero":false},"axis":{"values":[1.8,2.5]}}}},{"data":{"name":"fit"},"transform":[{"filter":"datum.p==='Sichuan'"}],"mark":"line","encoding":{"x":{"field":"x","type":"quantitative"},"y":{"field":"y","type":"quantitative"}}},{"data":{"values":[{}]},"mark":{"type":"text","text":"\u03b2","fontStyle":"italic","dx":158,"dy":-14},"encoding":{"x":{"datum":7.2,"type":"quantitative"},"y":{"datum":1.8,"type":"quantitative"}}},{"data":{"values":[{}]},"mark":{"type":"text","text":"\u02c6","dx":162,"dy":-21},"encoding":{"x":{"datum":7.2,"type":"quantitative"},"y":{"datum":1.8,"type":"quantitative"}}},{"data":{"values":[{}]},"mark":{"type":"text","text":"= 0 . 1","dx":176,"dy":-14},"encoding":{"x":{"datum":7.2,"type":"quantitative"},"y":{"datum":1.8,"type":"quantitative"}}}]},
{"title":"Guizhou","width":241,"height":130,"layer":[{"data":{"name":"pts"},"transform":[{"filter":"datum.p==='Guizhou'"}],"mark":"point","encoding":{"x":{"field":"x","type":"quantitative","title":null,"scale":{"domain":[5.7,7.6],"nice":false,"zero":false},"axis":{"values":[5.7,7.6]}},"y":{"field":"y","type":"quantitative","title":null,"scale":{"domain":[1.5,2.4],"nice":false,"zero":false},"axis":{"values":[1.5,2.4]}}}},{"data":{"name":"fit"},"transform":[{"filter":"datum.p==='Guizhou'"}],"mark":"line","encoding":{"x":{"field":"x","type":"quantitative"},"y":{"field":"y","type":"quantitative"}}},{"data":{"values":[{}]},"mark":{"type":"text","text":"\u03b2","fontStyle":"italic","dx":158,"dy":-14},"encoding":{"x":{"datum":5.7,"type":"quantitative"},"y":{"datum":1.5,"type":"quantitative"}}},{"data":{"values":[{}]},"mark":{"type":"text","text":"\u02c6","dx":162,"dy":-21},"encoding":{"x":{"datum":5.7,"type":"quantitative"},"y":{"datum":1.5,"type":"quantitative"}}},{"data":{"values":[{}]},"mark":{"type":"text","text":"= 0 . 3","dx":176,"dy":-14},"encoding":{"x":{"datum":5.7,"type":"quantitative"},"y":{"datum":1.5,"type":"quantitative"}}}]},
{"title":"Yunnan","width":241,"height":130,"layer":[{"data":{"name":"pts"},"transform":[{"filter":"datum.p==='Yunnan'"}],"mark":"point","encoding":{"x":{"field":"x","type":"quantitative","title":null,"scale":{"domain":[6.4,8],"nice":false,"zero":false},"axis":{"values":[6.4,8]}},"y":{"field":"y","type":"quantitative","title":null,"scale":{"domain":[1.4,1.7],"nice":false,"zero":false},"axis":{"values":[1.4,1.7]}}}},{"data":{"name":"fit"},"transform":[{"filter":"datum.p==='Yunnan'"}],"mark":"line","encoding":{"x":{"field":"x","type":"quantitative"},"y":{"field":"y","type":"quantitative"}}},{"data":{"values":[{}]},"mark":{"type":"text","text":"\u03b2","fontStyle":"italic","dx":158,"dy":-14},"encoding":{"x":{"datum":6.4,"type":"quantitative"},"y":{"datum":1.4,"type":"quantitative"}}},{"data":{"values":[{}]},"mark":{"type":"text","text":"\u02c6","dx":162,"dy":-21},"encoding":{"x":{"datum":6.4,"type":"quantitative"},"y":{"datum":1.4,"type":"quantitative"}}},{"data":{"values":[{}]},"mark":{"type":"text","text":"= 0 . 1","dx":176,"dy":-14},"encoding":{"x":{"datum":6.4,"type":"quantitative"},"y":{"datum":1.4,"type":"quantitative"}}}]},
{"title":"Tibet","width":241,"height":130,"layer":[{"data":{"name":"pts"},"transform":[{"filter":"datum.p==='Tibet'"}],"mark":"point","encoding":{"x":{"field":"x","type":"quantitative","title":null,"scale":{"domain":[3.7,5.4],"nice":false,"zero":false},"axis":{"values":[3.7,5.4]}},"y":{"field":"y","type":"quantitative","title":null,"scale":{"domain":[1.2,1.5],"nice":false,"zero":false},"axis":{"values":[1.2,1.5]}}}},{"data":{"name":"fit"},"transform":[{"filter":"datum.p==='Tibet'"}],"mark":"line","encoding":{"x":{"field":"x","type":"quantitative"},"y":{"field":"y","type":"quantitative"}}},{"data":{"values":[{}]},"mark":{"type":"text","text":"\u03b2","fontStyle":"italic","dx":158,"dy":-14},"encoding":{"x":{"datum":3.7,"type":"quantitative"},"y":{"datum":1.2,"type":"quantitative"}}},{"data":{"values":[{}]},"mark":{"type":"text","text":"\u02c6","dx":162,"dy":-21},"encoding":{"x":{"datum":3.7,"type":"quantitative"},"y":{"datum":1.2,"type":"quantitative"}}},{"data":{"values":[{}]},"mark":{"type":"text","text":"= 0","dx":176,"dy":-14},"encoding":{"x":{"datum":3.7,"type":"quantitative"},"y":{"datum":1.2,"type":"quantitative"}}}]},
{"title":"Shaanxi","width":241,"height":130,"layer":[{"data":{"name":"pts"},"transform":[{"filter":"datum.p==='Shaanxi'"}],"mark":"point","encoding":{"x":{"field":"x","type":"quantitative","title":null,"scale":{"domain":[6.4,8.4],"nice":false,"zero":false},"axis":{"values":[6.4,8.4]}},"y":{"field":"y","type":"quantitative","title":null,"scale":{"domain":[1.8,2.8],"nice":false,"zero":false},"axis":{"values":[1.8,2.8]}}}},{"data":{"name":"fit"},"transform":[{"filter":"datum.p==='Shaanxi'"}],"mark":"line","encoding":{"x":{"field":"x","type":"quantitative"},"y":{"field":"y","type":"quantitative"}}},{"data":{"values":[{}]},"mark":{"type":"text","text":"\u03b2","fontStyle":"italic","dx":158,"dy":-14},"encoding":{"x":{"datum":6.4,"type":"quantitative"},"y":{"datum":1.8,"type":"quantitative"}}},{"data":{"values":[{}]},"mark":{"type":"text","text":"\u02c6","dx":162,"dy":-21},"encoding":{"x":{"datum":6.4,"type":"quantitative"},"y":{"datum":1.8,"type":"quantitative"}}},{"data":{"values":[{}]},"mark":{"type":"text","text":"= 0 . 4","dx":176,"dy":-14},"encoding":{"x":{"datum":6.4,"type":"quantitative"},"y":{"datum":1.8,"type":"quantitative"}}}]},
{"title":"Gansu","width":241,"height":130,"layer":[{"data":{"name":"pts"},"transform":[{"filter":"datum.p==='Gansu'"}],"mark":"point","encoding":{"x":{"field":"x","type":"quantitative","title":null,"scale":{"domain":[5.7,7.4],"nice":false,"zero":false},"axis":{"values":[5.7,7.4]}},"y":{"field":"y","type":"quantitative","title":null,"scale":{"domain":[1.3,2],"nice":false,"zero":false},"axis":{"values":[1.3,2]}}}},{"data":{"name":"fit"},"transform":[{"filter":"datum.p==='Gansu'"}],"mark":"line","encoding":{"x":{"field":"x","type":"quantitative"},"y":{"field":"y","type":"quantitative"}}},{"data":{"values":[{}]},"mark":{"type":"text","text":"\u03b2","fontStyle":"italic","dx":158,"dy":-14},"encoding":{"x":{"datum":5.7,"type":"quantitative"},"y":{"datum":1.3,"type":"quantitative"}}},{"data":{"values":[{}]},"mark":{"type":"text","text":"\u02c6","dx":162,"dy":-21},"encoding":{"x":{"datum":5.7,"type":"quantitative"},"y":{"datum":1.3,"type":"quantitative"}}},{"data":{"values":[{}]},"mark":{"type":"text","text":"= 0 . 2","dx":176,"dy":-14},"encoding":{"x":{"datum":5.7,"type":"quantitative"},"y":{"datum":1.3,"type":"quantitative"}}}]},
{"title":"Qinghai","width":241,"height":130,"layer":[{"data":{"name":"pts"},"transform":[{"filter":"datum.p==='Qinghai'"}],"mark":"point","encoding":{"x":{"field":"x","type":"quantitative","title":null,"scale":{"domain":[4.5,6.3],"nice":false,"zero":false},"axis":{"values":[4.5,6.3]}},"y":{"field":"y","type":"quantitative","title":null,"scale":{"domain":[1.2,2],"nice":false,"zero":false},"axis":{"values":[1.2,2]}}}},{"data":{"name":"fit"},"transform":[{"filter":"datum.p==='Qinghai'"}],"mark":"line","encoding":{"x":{"field":"x","type":"quantitative"},"y":{"field":"y","type":"quantitative"}}},{"data":{"values":[{}]},"mark":{"type":"text","text":"\u03b2","fontStyle":"italic","dx":158,"dy":-14},"encoding":{"x":{"datum":4.5,"type":"quantitative"},"y":{"datum":1.2,"type":"quantitative"}}},{"data":{"values":[{}]},"mark":{"type":"text","text":"\u02c6","dx":162,"dy":-21},"encoding":{"x":{"datum":4.5,"type":"quantitative"},"y":{"datum":1.2,"type":"quantitative"}}},{"data":{"values":[{}]},"mark":{"type":"text","text":"= 0 . 2","dx":176,"dy":-14},"encoding":{"x":{"datum":4.5,"type":"quantitative"},"y":{"datum":1.2,"type":"quantitative"}}}]},
{"title":"Ningxia","width":241,"height":130,"layer":[{"data":{"name":"pts"},"transform":[{"filter":"datum.p==='Ningxia'"}],"mark":"point","encoding":{"x":{"field":"x","type":"quantitative","title":null,"scale":{"domain":[4.5,6.5],"nice":false,"zero":false},"axis":{"values":[4.5,6.5]}},"y":{"field":"y","type":"quantitative","title":null,"scale":{"domain":[1.5,2.5],"nice":false,"zero":false},"axis":{"values":[1.5,2.5]}}}},{"data":{"name":"fit"},"transform":[{"filter":"datum.p==='Ningxia'"}],"mark":"line","encoding":{"x":{"field":"x","type":"quantitative"},"y":{"field":"y","type":"quantitative"}}},{"data":{"values":[{}]},"mark":{"type":"text","text":"\u03b2","fontStyle":"italic","dx":158,"dy":-14},"encoding":{"x":{"datum":4.5,"type":"quantitative"},"y":{"datum":1.5,"type":"quantitative"}}},{"data":{"values":[{}]},"mark":{"type":"text","text":"\u02c6","dx":162,"dy":-21},"encoding":{"x":{"datum":4.5,"type":"quantitative"},"y":{"datum":1.5,"type":"quantitative"}}},{"data":{"values":[{}]},"mark":{"type":"text","text":"= 0 . 3","dx":176,"dy":-14},"encoding":{"x":{"datum":4.5,"type":"quantitative"},"y":{"datum":1.5,"type":"quantitative"}}}]},
{"title":"Xinjiang","width":241,"height":130,"layer":[{"data":{"name":"pts"},"transform":[{"filter":"datum.p==='Xinjiang'"}],"mark":"point","encoding":{"x":{"field":"x","type":"quantitative","title":null,"scale":{"domain":[5.8,7.7],"nice":false,"zero":false},"axis":{"values":[5.8,7.7]}},"y":{"field":"y","type":"quantitative","title":null,"scale":{"domain":[1.3,2.2],"nice":false,"zero":false},"axis":{"values":[1.3,2.2]}}}},{"data":{"name":"fit"},"transform":[{"filter":"datum.p==='Xinjiang'"}],"mark":"line","encoding":{"x":{"field":"x","type":"quantitative"},"y":{"field":"y","type":"quantitative"}}},{"data":{"values":[{}]},"mark":{"type":"text","text":"\u03b2","fontStyle":"italic","dx":158,"dy":-14},"encoding":{"x":{"datum":5.8,"type":"quantitative"},"y":{"datum":1.3,"type":"quantitative"}}},{"data":{"values":[{}]},"mark":{"type":"text","text":"\u02c6","dx":162,"dy":-21},"encoding":{"x":{"datum":5.8,"type":"quantitative"},"y":{"datum":1.3,"type":"quantitative"}}},{"data":{"values":[{}]},"mark":{"type":"text","text":"= 0","dx":176,"dy":-14},"encoding":{"x":{"datum":5.8,"type":"quantitative"},"y":{"datum":1.3,"type":"quantitative"}}}]}
]
}
